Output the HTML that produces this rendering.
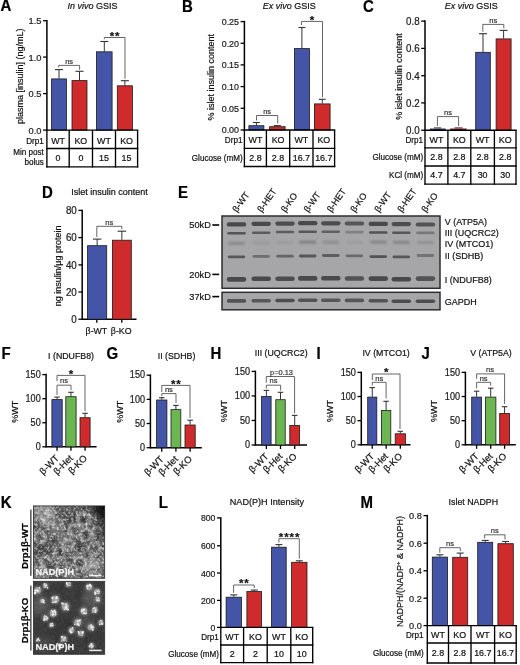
<!DOCTYPE html><html><head><meta charset="utf-8"><style>html,body{margin:0;padding:0;background:#fff;}svg{display:block;font-family:"Liberation Sans", sans-serif;will-change:transform;}</style></head><body>
<svg width="520" height="665" viewBox="0 0 520 665">
<rect width="520" height="665" fill="#fff"/>
<text x="0" y="0" transform="translate(0.6,11.4) scale(1,1.05)" font-size="15" font-weight="bold" fill="#000" stroke="#000" stroke-width="0.2">A</text>
<text x="0" y="0" transform="translate(92.5,8.6) scale(1,1.1)" font-size="9" text-anchor="middle" fill="#111" stroke="#111" stroke-width="0.2"><tspan font-style="italic">In vivo</tspan> GSIS</text>
<text x="0" y="0" transform="translate(23.3,76.3) rotate(-90)" font-size="9" text-anchor="middle" fill="#111" stroke="#111" stroke-width="0.2">plasma [insulin] (ng/mL)</text>
<line x1="46.9" y1="19.95" x2="46.9" y2="130.85" stroke="#000" stroke-width="1.5"/>
<line x1="43.1" y1="20.7" x2="46.9" y2="20.7" stroke="#000" stroke-width="1.3"/>
<text x="0" y="0" transform="translate(41.5,24.38) scale(1,1.06)" font-size="9.3" text-anchor="end" fill="#1a1a1a" stroke="#1a1a1a" stroke-width="0.2">1.5</text>
<line x1="43.1" y1="57.1" x2="46.9" y2="57.1" stroke="#000" stroke-width="1.3"/>
<text x="0" y="0" transform="translate(41.5,60.78) scale(1,1.06)" font-size="9.3" text-anchor="end" fill="#1a1a1a" stroke="#1a1a1a" stroke-width="0.2">1.0</text>
<line x1="43.1" y1="93.6" x2="46.9" y2="93.6" stroke="#000" stroke-width="1.3"/>
<text x="0" y="0" transform="translate(41.5,97.28) scale(1,1.06)" font-size="9.3" text-anchor="end" fill="#1a1a1a" stroke="#1a1a1a" stroke-width="0.2">0.5</text>
<line x1="43.1" y1="130.1" x2="46.9" y2="130.1" stroke="#000" stroke-width="1.3"/>
<text x="0" y="0" transform="translate(41.5,133.78) scale(1,1.06)" font-size="9.3" text-anchor="end" fill="#1a1a1a" stroke="#1a1a1a" stroke-width="0.2">0.0</text>
<line x1="59" y1="69.6" x2="59" y2="78.5" stroke="#333" stroke-width="1"/>
<line x1="55" y1="69.6" x2="63" y2="69.6" stroke="#333" stroke-width="1.1"/>
<rect x="51.6" y="78.9" width="14.8" height="51.2" fill="#4455a8" stroke="#1a1a1a" stroke-width="0.8"/>
<line x1="79.5" y1="71.3" x2="79.5" y2="80.2" stroke="#333" stroke-width="1"/>
<line x1="75.5" y1="71.3" x2="83.5" y2="71.3" stroke="#333" stroke-width="1.1"/>
<rect x="72" y="80.6" width="15" height="49.5" fill="#cf2a2c" stroke="#1a1a1a" stroke-width="0.8"/>
<line x1="104.3" y1="41.5" x2="104.3" y2="51.4" stroke="#333" stroke-width="1"/>
<line x1="100.3" y1="41.5" x2="108.3" y2="41.5" stroke="#333" stroke-width="1.1"/>
<rect x="96.5" y="51.8" width="15.6" height="78.3" fill="#4455a8" stroke="#1a1a1a" stroke-width="0.8"/>
<line x1="124.85" y1="80.7" x2="124.85" y2="85.4" stroke="#333" stroke-width="1"/>
<line x1="120.85" y1="80.7" x2="128.85" y2="80.7" stroke="#333" stroke-width="1.1"/>
<rect x="117.3" y="85.8" width="15.1" height="44.3" fill="#cf2a2c" stroke="#1a1a1a" stroke-width="0.8"/>
<polyline points="58.7,67.4 58.7,65.4 79.6,65.4 79.6,69.7" fill="none" stroke="#555" stroke-width="0.9"/>
<text x="69.15" y="63.6" font-size="7.5" text-anchor="middle" fill="#333" stroke="#333" stroke-width="0.2">ns</text>
<polyline points="104.3,39.2 104.3,37.5 125,37.5 125,78.8" fill="none" stroke="#555" stroke-width="0.9"/>
<text x="115.1" y="39.97" font-size="11.5" text-anchor="middle" font-weight="bold" fill="#111" stroke="#111" stroke-width="0.2" letter-spacing="0.9">**</text>
<line x1="46.23" y1="130.1" x2="138.28" y2="130.1" stroke="#000" stroke-width="1.35"/>
<line x1="46.23" y1="148.5" x2="138.28" y2="148.5" stroke="#000" stroke-width="1.35"/>
<line x1="46.23" y1="166.9" x2="138.28" y2="166.9" stroke="#000" stroke-width="1.35"/>
<line x1="46.9" y1="130.1" x2="46.9" y2="167.58" stroke="#000" stroke-width="1.35"/>
<line x1="69.2" y1="130.1" x2="69.2" y2="167.58" stroke="#000" stroke-width="1.35"/>
<line x1="92.5" y1="130.1" x2="92.5" y2="167.58" stroke="#000" stroke-width="1.35"/>
<line x1="115.5" y1="130.1" x2="115.5" y2="167.58" stroke="#000" stroke-width="1.35"/>
<line x1="137.6" y1="130.1" x2="137.6" y2="167.58" stroke="#000" stroke-width="1.35"/>
<text x="0" y="0" transform="translate(58.05,143.6) scale(1,1.1)" font-size="8.9" text-anchor="middle" fill="#111" stroke="#111" stroke-width="0.2">WT</text>
<text x="0" y="0" transform="translate(80.85,143.6) scale(1,1.1)" font-size="8.9" text-anchor="middle" fill="#111" stroke="#111" stroke-width="0.2">KO</text>
<text x="0" y="0" transform="translate(104,143.6) scale(1,1.1)" font-size="8.9" text-anchor="middle" fill="#111" stroke="#111" stroke-width="0.2">WT</text>
<text x="0" y="0" transform="translate(126.55,143.6) scale(1,1.1)" font-size="8.9" text-anchor="middle" fill="#111" stroke="#111" stroke-width="0.2">KO</text>
<text x="0" y="0" transform="translate(58.05,160.8) scale(1,1.1)" font-size="8.9" text-anchor="middle" fill="#111" stroke="#111" stroke-width="0.2">0</text>
<text x="0" y="0" transform="translate(80.85,160.8) scale(1,1.1)" font-size="8.9" text-anchor="middle" fill="#111" stroke="#111" stroke-width="0.2">0</text>
<text x="0" y="0" transform="translate(104,160.8) scale(1,1.1)" font-size="8.9" text-anchor="middle" fill="#111" stroke="#111" stroke-width="0.2">15</text>
<text x="0" y="0" transform="translate(126.55,160.8) scale(1,1.1)" font-size="8.9" text-anchor="middle" fill="#111" stroke="#111" stroke-width="0.2">15</text>
<text x="0" y="0" transform="translate(43.8,143.6) scale(1,1.07)" font-size="8.1" text-anchor="end" fill="#111" stroke="#111" stroke-width="0.2">Drp1</text>
<text x="0" y="0" transform="translate(43.8,155.2) scale(1,1.07)" font-size="8.1" text-anchor="end" fill="#111" stroke="#111" stroke-width="0.2">Min post</text>
<text x="0" y="0" transform="translate(43.8,164.5) scale(1,1.07)" font-size="8.1" text-anchor="end" fill="#111" stroke="#111" stroke-width="0.2">bolus</text>
<text x="0" y="0" transform="translate(182,11.9) scale(1,1.05)" font-size="15" font-weight="bold" fill="#000" stroke="#000" stroke-width="0.2">B</text>
<text x="0" y="0" transform="translate(289.3,8.9) scale(1,1.1)" font-size="9" text-anchor="middle" fill="#111" stroke="#111" stroke-width="0.2"><tspan font-style="italic">Ex vivo</tspan> GSIS</text>
<text x="0" y="0" transform="translate(214.2,77.3) rotate(-90)" font-size="9" text-anchor="middle" fill="#111" stroke="#111" stroke-width="0.2">% islet insulin content</text>
<line x1="244.4" y1="20.85" x2="244.4" y2="130.75" stroke="#000" stroke-width="1.5"/>
<line x1="240.6" y1="21.6" x2="244.4" y2="21.6" stroke="#000" stroke-width="1.3"/>
<text x="239" y="24.94" font-size="8.9" text-anchor="end" fill="#1a1a1a" stroke="#1a1a1a" stroke-width="0.2">0.25</text>
<line x1="240.6" y1="43.3" x2="244.4" y2="43.3" stroke="#000" stroke-width="1.3"/>
<text x="239" y="46.64" font-size="8.9" text-anchor="end" fill="#1a1a1a" stroke="#1a1a1a" stroke-width="0.2">0.20</text>
<line x1="240.6" y1="64.9" x2="244.4" y2="64.9" stroke="#000" stroke-width="1.3"/>
<text x="239" y="68.24" font-size="8.9" text-anchor="end" fill="#1a1a1a" stroke="#1a1a1a" stroke-width="0.2">0.15</text>
<line x1="240.6" y1="86.6" x2="244.4" y2="86.6" stroke="#000" stroke-width="1.3"/>
<text x="239" y="89.94" font-size="8.9" text-anchor="end" fill="#1a1a1a" stroke="#1a1a1a" stroke-width="0.2">0.10</text>
<line x1="240.6" y1="108.3" x2="244.4" y2="108.3" stroke="#000" stroke-width="1.3"/>
<text x="239" y="111.64" font-size="8.9" text-anchor="end" fill="#1a1a1a" stroke="#1a1a1a" stroke-width="0.2">0.05</text>
<line x1="240.6" y1="130" x2="244.4" y2="130" stroke="#000" stroke-width="1.3"/>
<text x="239" y="133.34" font-size="8.9" text-anchor="end" fill="#1a1a1a" stroke="#1a1a1a" stroke-width="0.2">0.00</text>
<line x1="256.4" y1="122.5" x2="256.4" y2="125.3" stroke="#333" stroke-width="1"/>
<line x1="252.9" y1="122.5" x2="259.9" y2="122.5" stroke="#333" stroke-width="1.1"/>
<rect x="248.9" y="125.7" width="15" height="4.3" fill="#4455a8" stroke="#1a1a1a" stroke-width="0.8"/>
<line x1="277.35" y1="125.6" x2="277.35" y2="126.3" stroke="#333" stroke-width="1"/>
<line x1="273.85" y1="125.6" x2="280.85" y2="125.6" stroke="#333" stroke-width="1.1"/>
<rect x="269.6" y="126.7" width="15.5" height="3.3" fill="#cf2a2c" stroke="#1a1a1a" stroke-width="0.8"/>
<line x1="301.9" y1="27.5" x2="301.9" y2="48.2" stroke="#333" stroke-width="1"/>
<line x1="298.4" y1="27.5" x2="305.4" y2="27.5" stroke="#333" stroke-width="1.1"/>
<rect x="294.4" y="48.6" width="15" height="81.4" fill="#4455a8" stroke="#1a1a1a" stroke-width="0.8"/>
<line x1="322.25" y1="99.3" x2="322.25" y2="103.5" stroke="#333" stroke-width="1"/>
<line x1="318.75" y1="99.3" x2="325.75" y2="99.3" stroke="#333" stroke-width="1.1"/>
<rect x="314.4" y="103.9" width="15.7" height="26.1" fill="#cf2a2c" stroke="#1a1a1a" stroke-width="0.8"/>
<polyline points="256.5,120.5 256.5,115.5 277.7,115.5 277.7,123.6" fill="none" stroke="#555" stroke-width="0.9"/>
<text x="267.1" y="113.7" font-size="7.5" text-anchor="middle" fill="#333" stroke="#333" stroke-width="0.2">ns</text>
<polyline points="301.5,25 301.5,21.4 322.5,21.4 322.5,97.3" fill="none" stroke="#555" stroke-width="0.9"/>
<text x="312" y="23.87" font-size="11.5" text-anchor="middle" font-weight="bold" fill="#111" stroke="#111" stroke-width="0.2">*</text>
<line x1="243.72" y1="130" x2="335.28" y2="130" stroke="#000" stroke-width="1.35"/>
<line x1="243.72" y1="148.4" x2="335.28" y2="148.4" stroke="#000" stroke-width="1.35"/>
<line x1="243.72" y1="166.5" x2="335.28" y2="166.5" stroke="#000" stroke-width="1.35"/>
<line x1="244.4" y1="130" x2="244.4" y2="167.18" stroke="#000" stroke-width="1.35"/>
<line x1="266.4" y1="130" x2="266.4" y2="167.18" stroke="#000" stroke-width="1.35"/>
<line x1="289.7" y1="130" x2="289.7" y2="167.18" stroke="#000" stroke-width="1.35"/>
<line x1="313" y1="130" x2="313" y2="167.18" stroke="#000" stroke-width="1.35"/>
<line x1="334.6" y1="130" x2="334.6" y2="167.18" stroke="#000" stroke-width="1.35"/>
<text x="0" y="0" transform="translate(255.4,143.4) scale(1,1.1)" font-size="8.9" text-anchor="middle" fill="#111" stroke="#111" stroke-width="0.2">WT</text>
<text x="0" y="0" transform="translate(278.05,143.4) scale(1,1.1)" font-size="8.9" text-anchor="middle" fill="#111" stroke="#111" stroke-width="0.2">KO</text>
<text x="0" y="0" transform="translate(301.35,143.4) scale(1,1.1)" font-size="8.9" text-anchor="middle" fill="#111" stroke="#111" stroke-width="0.2">WT</text>
<text x="0" y="0" transform="translate(323.8,143.4) scale(1,1.1)" font-size="8.9" text-anchor="middle" fill="#111" stroke="#111" stroke-width="0.2">KO</text>
<text x="0" y="0" transform="translate(255.4,160.5) scale(1,1.1)" font-size="8.9" text-anchor="middle" fill="#111" stroke="#111" stroke-width="0.2">2.8</text>
<text x="0" y="0" transform="translate(278.05,160.5) scale(1,1.1)" font-size="8.9" text-anchor="middle" fill="#111" stroke="#111" stroke-width="0.2">2.8</text>
<text x="0" y="0" transform="translate(301.35,160.5) scale(1,1.1)" font-size="8.9" text-anchor="middle" fill="#111" stroke="#111" stroke-width="0.2">16.7</text>
<text x="0" y="0" transform="translate(323.8,160.5) scale(1,1.1)" font-size="8.9" text-anchor="middle" fill="#111" stroke="#111" stroke-width="0.2">16.7</text>
<text x="0" y="0" transform="translate(242.4,143.4) scale(1,1.07)" font-size="8.1" text-anchor="end" fill="#111" stroke="#111" stroke-width="0.2">Drp1</text>
<text x="0" y="0" transform="translate(242.6,160.5) scale(1,1.07)" font-size="8.1" text-anchor="end" fill="#111" stroke="#111" stroke-width="0.2">Glucose (mM)</text>
<text x="0" y="0" transform="translate(362.9,11.5) scale(1,1.05)" font-size="15" font-weight="bold" fill="#000" stroke="#000" stroke-width="0.2">C</text>
<text x="0" y="0" transform="translate(471.3,8.7) scale(1,1.1)" font-size="9" text-anchor="middle" fill="#111" stroke="#111" stroke-width="0.2"><tspan font-style="italic">Ex vivo</tspan> GSIS</text>
<text x="0" y="0" transform="translate(401.6,76.6) rotate(-90)" font-size="9" text-anchor="middle" fill="#111" stroke="#111" stroke-width="0.2">% islet insulin content</text>
<line x1="425" y1="20.35" x2="425" y2="130.95" stroke="#000" stroke-width="1.5"/>
<line x1="421.2" y1="21.1" x2="425" y2="21.1" stroke="#000" stroke-width="1.3"/>
<text x="0" y="0" transform="translate(419.6,24.97) scale(1,1.06)" font-size="9.8" text-anchor="end" fill="#1a1a1a" stroke="#1a1a1a" stroke-width="0.2">0.8</text>
<line x1="421.2" y1="48.4" x2="425" y2="48.4" stroke="#000" stroke-width="1.3"/>
<text x="0" y="0" transform="translate(419.6,52.27) scale(1,1.06)" font-size="9.8" text-anchor="end" fill="#1a1a1a" stroke="#1a1a1a" stroke-width="0.2">0.6</text>
<line x1="421.2" y1="75.7" x2="425" y2="75.7" stroke="#000" stroke-width="1.3"/>
<text x="0" y="0" transform="translate(419.6,79.57) scale(1,1.06)" font-size="9.8" text-anchor="end" fill="#1a1a1a" stroke="#1a1a1a" stroke-width="0.2">0.4</text>
<line x1="421.2" y1="102.9" x2="425" y2="102.9" stroke="#000" stroke-width="1.3"/>
<text x="0" y="0" transform="translate(419.6,106.77) scale(1,1.06)" font-size="9.8" text-anchor="end" fill="#1a1a1a" stroke="#1a1a1a" stroke-width="0.2">0.2</text>
<line x1="421.2" y1="130.2" x2="425" y2="130.2" stroke="#000" stroke-width="1.3"/>
<text x="0" y="0" transform="translate(419.6,134.07) scale(1,1.06)" font-size="9.8" text-anchor="end" fill="#1a1a1a" stroke="#1a1a1a" stroke-width="0.2">0.0</text>
<rect x="429.8" y="128.5" width="15.8" height="1.6" fill="#2e3668"/>
<line x1="434" y1="127.9" x2="441.3" y2="127.9" stroke="#333" stroke-width="1"/>
<rect x="450.2" y="128.5" width="16.4" height="1.6" fill="#6e1e22"/>
<line x1="454.5" y1="127.9" x2="462.5" y2="127.9" stroke="#5a1a1c" stroke-width="1"/>
<line x1="483" y1="33.7" x2="483" y2="51.9" stroke="#333" stroke-width="1"/>
<line x1="479" y1="33.7" x2="487" y2="33.7" stroke="#333" stroke-width="1.1"/>
<rect x="475.7" y="52.3" width="14.6" height="77.9" fill="#4455a8" stroke="#1a1a1a" stroke-width="0.8"/>
<line x1="503.6" y1="30.4" x2="503.6" y2="38.5" stroke="#333" stroke-width="1"/>
<line x1="499.6" y1="30.4" x2="507.6" y2="30.4" stroke="#333" stroke-width="1.1"/>
<rect x="496.1" y="38.9" width="15" height="91.3" fill="#cf2a2c" stroke="#1a1a1a" stroke-width="0.8"/>
<polyline points="437.4,126 437.4,116.6 458.6,116.6 458.6,126" fill="none" stroke="#555" stroke-width="0.9"/>
<text x="448" y="114.8" font-size="7.5" text-anchor="middle" fill="#333" stroke="#333" stroke-width="0.2">ns</text>
<polyline points="482.8,31.7 482.8,24.4 503.8,24.4 503.8,28.4" fill="none" stroke="#555" stroke-width="0.9"/>
<text x="493.3" y="22.6" font-size="7.5" text-anchor="middle" fill="#333" stroke="#333" stroke-width="0.2">ns</text>
<line x1="424.32" y1="130.2" x2="516.67" y2="130.2" stroke="#000" stroke-width="1.35"/>
<line x1="424.32" y1="147.9" x2="516.67" y2="147.9" stroke="#000" stroke-width="1.35"/>
<line x1="424.32" y1="166" x2="516.67" y2="166" stroke="#000" stroke-width="1.35"/>
<line x1="424.32" y1="184.1" x2="516.67" y2="184.1" stroke="#000" stroke-width="1.35"/>
<line x1="425" y1="130.2" x2="425" y2="184.78" stroke="#000" stroke-width="1.35"/>
<line x1="447.9" y1="130.2" x2="447.9" y2="184.78" stroke="#000" stroke-width="1.35"/>
<line x1="470.8" y1="130.2" x2="470.8" y2="184.78" stroke="#000" stroke-width="1.35"/>
<line x1="494.4" y1="130.2" x2="494.4" y2="184.78" stroke="#000" stroke-width="1.35"/>
<line x1="516" y1="130.2" x2="516" y2="184.78" stroke="#000" stroke-width="1.35"/>
<text x="0" y="0" transform="translate(436.45,143.2) scale(1,1.1)" font-size="8.9" text-anchor="middle" fill="#111" stroke="#111" stroke-width="0.2">WT</text>
<text x="0" y="0" transform="translate(459.35,143.2) scale(1,1.1)" font-size="8.9" text-anchor="middle" fill="#111" stroke="#111" stroke-width="0.2">KO</text>
<text x="0" y="0" transform="translate(482.6,143.2) scale(1,1.1)" font-size="8.9" text-anchor="middle" fill="#111" stroke="#111" stroke-width="0.2">WT</text>
<text x="0" y="0" transform="translate(505.2,143.2) scale(1,1.1)" font-size="8.9" text-anchor="middle" fill="#111" stroke="#111" stroke-width="0.2">KO</text>
<text x="0" y="0" transform="translate(436.45,160.4) scale(1,1.1)" font-size="8.9" text-anchor="middle" fill="#111" stroke="#111" stroke-width="0.2">2.8</text>
<text x="0" y="0" transform="translate(459.35,160.4) scale(1,1.1)" font-size="8.9" text-anchor="middle" fill="#111" stroke="#111" stroke-width="0.2">2.8</text>
<text x="0" y="0" transform="translate(482.6,160.4) scale(1,1.1)" font-size="8.9" text-anchor="middle" fill="#111" stroke="#111" stroke-width="0.2">2.8</text>
<text x="0" y="0" transform="translate(505.2,160.4) scale(1,1.1)" font-size="8.9" text-anchor="middle" fill="#111" stroke="#111" stroke-width="0.2">2.8</text>
<text x="0" y="0" transform="translate(436.45,178) scale(1,1.1)" font-size="8.9" text-anchor="middle" fill="#111" stroke="#111" stroke-width="0.2">4.7</text>
<text x="0" y="0" transform="translate(459.35,178) scale(1,1.1)" font-size="8.9" text-anchor="middle" fill="#111" stroke="#111" stroke-width="0.2">4.7</text>
<text x="0" y="0" transform="translate(482.6,178) scale(1,1.1)" font-size="8.9" text-anchor="middle" fill="#111" stroke="#111" stroke-width="0.2">30</text>
<text x="0" y="0" transform="translate(505.2,178) scale(1,1.1)" font-size="8.9" text-anchor="middle" fill="#111" stroke="#111" stroke-width="0.2">30</text>
<text x="0" y="0" transform="translate(423,143.2) scale(1,1.07)" font-size="8.1" text-anchor="end" fill="#111" stroke="#111" stroke-width="0.2">Drp1</text>
<text x="0" y="0" transform="translate(423.2,160.4) scale(1,1.07)" font-size="8.1" text-anchor="end" fill="#111" stroke="#111" stroke-width="0.2">Glucose (mM)</text>
<text x="0" y="0" transform="translate(423.2,177.7) scale(1,1.07)" font-size="8.1" text-anchor="end" fill="#111" stroke="#111" stroke-width="0.2">KCl (mM)</text>
<text x="0" y="0" transform="translate(42,197.5) scale(1,1.05)" font-size="15" font-weight="bold" fill="#000" stroke="#000" stroke-width="0.2">D</text>
<text x="71.3" y="194.6" font-size="9" fill="#111" stroke="#111" stroke-width="0.2">Islet insulin content</text>
<text x="0" y="0" transform="translate(60.6,265.9) rotate(-90)" font-size="9" text-anchor="middle" fill="#111" stroke="#111" stroke-width="0.2">ng insulin/µg protein</text>
<line x1="82.2" y1="209.65" x2="82.2" y2="319.95" stroke="#000" stroke-width="1.5"/>
<line x1="78.4" y1="210.4" x2="82.2" y2="210.4" stroke="#000" stroke-width="1.3"/>
<text x="0" y="0" transform="translate(76.8,214.27) scale(1,1.06)" font-size="9.8" text-anchor="end" fill="#1a1a1a" stroke="#1a1a1a" stroke-width="0.2">80</text>
<line x1="78.4" y1="237.6" x2="82.2" y2="237.6" stroke="#000" stroke-width="1.3"/>
<text x="0" y="0" transform="translate(76.8,241.47) scale(1,1.06)" font-size="9.8" text-anchor="end" fill="#1a1a1a" stroke="#1a1a1a" stroke-width="0.2">60</text>
<line x1="78.4" y1="264.9" x2="82.2" y2="264.9" stroke="#000" stroke-width="1.3"/>
<text x="0" y="0" transform="translate(76.8,268.77) scale(1,1.06)" font-size="9.8" text-anchor="end" fill="#1a1a1a" stroke="#1a1a1a" stroke-width="0.2">40</text>
<line x1="78.4" y1="292" x2="82.2" y2="292" stroke="#000" stroke-width="1.3"/>
<text x="0" y="0" transform="translate(76.8,295.87) scale(1,1.06)" font-size="9.8" text-anchor="end" fill="#1a1a1a" stroke="#1a1a1a" stroke-width="0.2">20</text>
<line x1="78.4" y1="319.2" x2="82.2" y2="319.2" stroke="#000" stroke-width="1.3"/>
<text x="0" y="0" transform="translate(76.8,323.07) scale(1,1.06)" font-size="9.8" text-anchor="end" fill="#1a1a1a" stroke="#1a1a1a" stroke-width="0.2">0</text>
<line x1="82.2" y1="319.2" x2="136.5" y2="319.2" stroke="#000" stroke-width="1.5"/>
<line x1="96.8" y1="319.2" x2="96.8" y2="322.8" stroke="#000" stroke-width="1.3"/>
<line x1="121.8" y1="319.2" x2="121.8" y2="322.8" stroke="#000" stroke-width="1.3"/>
<line x1="97.15" y1="239.1" x2="97.15" y2="245.3" stroke="#333" stroke-width="1"/>
<line x1="92.9" y1="239.1" x2="101.4" y2="239.1" stroke="#333" stroke-width="1.1"/>
<rect x="87.6" y="245.7" width="19.1" height="73.5" fill="#4455a8" stroke="#1a1a1a" stroke-width="0.8"/>
<line x1="121.85" y1="231.2" x2="121.85" y2="239.8" stroke="#333" stroke-width="1"/>
<line x1="117.6" y1="231.2" x2="126.1" y2="231.2" stroke="#333" stroke-width="1.1"/>
<rect x="112.4" y="240.2" width="18.9" height="79" fill="#cf2a2c" stroke="#1a1a1a" stroke-width="0.8"/>
<polyline points="96.8,237.1 96.8,226.3 121.8,226.3 121.8,229.2" fill="none" stroke="#555" stroke-width="0.9"/>
<text x="109.3" y="224.5" font-size="7.5" text-anchor="middle" fill="#333" stroke="#333" stroke-width="0.2">ns</text>
<text x="0" y="0" transform="translate(96.4,333.6) scale(1,1.1)" font-size="8.8" text-anchor="middle" fill="#111" stroke="#111" stroke-width="0.2">β-WT</text>
<text x="0" y="0" transform="translate(121.2,333.6) scale(1,1.1)" font-size="8.8" text-anchor="middle" fill="#111" stroke="#111" stroke-width="0.2">β-KO</text>
<text x="0" y="0" transform="translate(178,198.4) scale(1,1.05)" font-size="15" font-weight="bold" fill="#000" stroke="#000" stroke-width="0.2">E</text>
<text x="0" y="0" transform="translate(237.1,212.8) rotate(-55)" font-size="9" fill="#111" stroke="#111" stroke-width="0.2">β-WT</text>
<text x="0" y="0" transform="translate(261.8,212.8) rotate(-55)" font-size="9" fill="#111" stroke="#111" stroke-width="0.2">β-HET</text>
<text x="0" y="0" transform="translate(285.6,212.8) rotate(-55)" font-size="9" fill="#111" stroke="#111" stroke-width="0.2">β-KO</text>
<text x="0" y="0" transform="translate(308.3,212.8) rotate(-55)" font-size="9" fill="#111" stroke="#111" stroke-width="0.2">β-WT</text>
<text x="0" y="0" transform="translate(331.4,212.8) rotate(-55)" font-size="9" fill="#111" stroke="#111" stroke-width="0.2">β-HET</text>
<text x="0" y="0" transform="translate(355,212.8) rotate(-55)" font-size="9" fill="#111" stroke="#111" stroke-width="0.2">β-KO</text>
<text x="0" y="0" transform="translate(378.9,212.8) rotate(-55)" font-size="9" fill="#111" stroke="#111" stroke-width="0.2">β-WT</text>
<text x="0" y="0" transform="translate(401.9,212.8) rotate(-55)" font-size="9" fill="#111" stroke="#111" stroke-width="0.2">β-HET</text>
<text x="0" y="0" transform="translate(426,212.8) rotate(-55)" font-size="9" fill="#111" stroke="#111" stroke-width="0.2">β-KO</text>
<defs><filter id="bl" x="-20%" y="-150%" width="140%" height="400%"><feGaussianBlur stdDeviation="0.7 0.55"/></filter><filter id="bl2" x="-20%" y="-150%" width="140%" height="400%"><feGaussianBlur stdDeviation="1.1 0.9"/></filter></defs>
<rect x="222" y="216" width="218" height="72.3" fill="#a6a6a8"/>
<rect x="222" y="292.3" width="218" height="17.5" fill="#a6a6a8"/>
<rect x="226.75" y="222.3" width="19.5" height="4.2" rx="2.1" fill="#4a4a4a" filter="url(#bl)"/>
<rect x="251.45" y="221.7" width="19.5" height="4.2" rx="2.1" fill="#4a4a4a" filter="url(#bl)"/>
<rect x="275.25" y="221.5" width="19.5" height="4.2" rx="2.1" fill="#4e4e4e" filter="url(#bl)"/>
<rect x="297.95" y="221.1" width="19.5" height="4.2" rx="2.1" fill="#4a4a4a" filter="url(#bl)"/>
<rect x="321.05" y="221.2" width="19.5" height="4.2" rx="2.1" fill="#4e4e4e" filter="url(#bl)"/>
<rect x="344.65" y="221.4" width="19.5" height="4.2" rx="2.1" fill="#575757" filter="url(#bl)"/>
<rect x="368.55" y="221.8" width="19.5" height="4.2" rx="2.1" fill="#4a4a4a" filter="url(#bl)"/>
<rect x="391.55" y="222" width="19.5" height="4.2" rx="2.1" fill="#4e4e4e" filter="url(#bl)"/>
<rect x="415.65" y="222.4" width="19.5" height="4.2" rx="2.1" fill="#535353" filter="url(#bl)"/>
<rect x="227.25" y="232" width="18.5" height="2.6" rx="1.3" fill="#535353" filter="url(#bl)"/>
<rect x="251.95" y="231.5" width="18.5" height="2.6" rx="1.3" fill="#5c5c5c" filter="url(#bl)"/>
<rect x="275.75" y="230.7" width="18.5" height="2.6" rx="1.3" fill="#5c5c5c" filter="url(#bl)"/>
<rect x="298.45" y="230.5" width="18.5" height="2.6" rx="1.3" fill="#575757" filter="url(#bl)"/>
<rect x="321.55" y="230.5" width="18.5" height="2.6" rx="1.3" fill="#616161" filter="url(#bl)"/>
<rect x="345.15" y="230.8" width="18.5" height="2.6" rx="1.3" fill="#818181" filter="url(#bl)"/>
<rect x="369.05" y="231.2" width="18.5" height="2.6" rx="1.3" fill="#535353" filter="url(#bl)"/>
<rect x="392.05" y="231.4" width="18.5" height="2.6" rx="1.3" fill="#575757" filter="url(#bl)"/>
<rect x="416.15" y="231.6" width="18.5" height="2.6" rx="1.3" fill="#787878" filter="url(#bl)"/>
<rect x="228" y="241.9" width="17" height="2.8" rx="1.4" fill="#858585" filter="url(#bl2)"/>
<rect x="252.7" y="241.6" width="17" height="2.8" rx="1.4" fill="#989898" filter="url(#bl2)"/>
<rect x="276.5" y="241.2" width="17" height="2.8" rx="1.4" fill="#989898" filter="url(#bl2)"/>
<rect x="299.2" y="240.8" width="17" height="2.8" rx="1.4" fill="#7c7c7c" filter="url(#bl2)"/>
<rect x="322.3" y="240.8" width="17" height="2.8" rx="1.4" fill="#8a8a8a" filter="url(#bl2)"/>
<rect x="345.9" y="240.9" width="17" height="2.8" rx="1.4" fill="#9c9c9c" filter="url(#bl2)"/>
<rect x="369.8" y="240.8" width="17" height="2.8" rx="1.4" fill="#818181" filter="url(#bl2)"/>
<rect x="392.8" y="241" width="17" height="2.8" rx="1.4" fill="#818181" filter="url(#bl2)"/>
<rect x="416.9" y="241.2" width="17" height="2.8" rx="1.4" fill="#8f8f8f" filter="url(#bl2)"/>
<rect x="227.75" y="255.4" width="17.5" height="2.8" rx="1.4" fill="#575757" filter="url(#bl)"/>
<rect x="252.45" y="254.9" width="17.5" height="2.8" rx="1.4" fill="#6e6e6e" filter="url(#bl)"/>
<rect x="276.25" y="254.8" width="17.5" height="2.8" rx="1.4" fill="#656565" filter="url(#bl)"/>
<rect x="298.95" y="254.6" width="17.5" height="2.8" rx="1.4" fill="#575757" filter="url(#bl)"/>
<rect x="322.05" y="254.1" width="17.5" height="2.8" rx="1.4" fill="#5c5c5c" filter="url(#bl)"/>
<rect x="345.65" y="254.4" width="17.5" height="2.8" rx="1.4" fill="#6a6a6a" filter="url(#bl)"/>
<rect x="369.55" y="255.2" width="17.5" height="2.8" rx="1.4" fill="#535353" filter="url(#bl)"/>
<rect x="392.55" y="255.5" width="17.5" height="2.8" rx="1.4" fill="#575757" filter="url(#bl)"/>
<rect x="416.65" y="254.1" width="17.5" height="2.8" rx="1.4" fill="#737373" filter="url(#bl)"/>
<rect x="226.75" y="277.1" width="19.5" height="4.6" rx="2.3" fill="#4a4a4a" filter="url(#bl)"/>
<rect x="251.45" y="276.5" width="19.5" height="4.6" rx="2.3" fill="#4a4a4a" filter="url(#bl)"/>
<rect x="275.25" y="276.4" width="19.5" height="4.6" rx="2.3" fill="#4e4e4e" filter="url(#bl)"/>
<rect x="297.95" y="276.1" width="19.5" height="4.6" rx="2.3" fill="#4a4a4a" filter="url(#bl)"/>
<rect x="321.05" y="275.9" width="19.5" height="4.6" rx="2.3" fill="#4a4a4a" filter="url(#bl)"/>
<rect x="344.65" y="276.2" width="19.5" height="4.6" rx="2.3" fill="#535353" filter="url(#bl)"/>
<rect x="368.55" y="276.3" width="19.5" height="4.6" rx="2.3" fill="#4a4a4a" filter="url(#bl)"/>
<rect x="391.55" y="276.9" width="19.5" height="4.6" rx="2.3" fill="#4a4a4a" filter="url(#bl)"/>
<rect x="415.65" y="276.3" width="19.5" height="4.6" rx="2.3" fill="#535353" filter="url(#bl)"/>
<rect x="226.75" y="299.1" width="19.5" height="3.6" rx="1.8" fill="#535353" filter="url(#bl)"/>
<rect x="251.45" y="298.9" width="19.5" height="3.6" rx="1.8" fill="#575757" filter="url(#bl)"/>
<rect x="275.25" y="298.7" width="19.5" height="3.6" rx="1.8" fill="#4e4e4e" filter="url(#bl)"/>
<rect x="297.95" y="298.4" width="19.5" height="3.6" rx="1.8" fill="#535353" filter="url(#bl)"/>
<rect x="321.05" y="298.4" width="19.5" height="3.6" rx="1.8" fill="#575757" filter="url(#bl)"/>
<rect x="344.65" y="298.6" width="19.5" height="3.6" rx="1.8" fill="#575757" filter="url(#bl)"/>
<rect x="368.55" y="298.9" width="19.5" height="3.6" rx="1.8" fill="#535353" filter="url(#bl)"/>
<rect x="391.55" y="299.4" width="19.5" height="3.6" rx="1.8" fill="#4e4e4e" filter="url(#bl)"/>
<rect x="415.65" y="299.4" width="19.5" height="3.6" rx="1.8" fill="#4e4e4e" filter="url(#bl)"/>
<rect x="222" y="216.0" width="218" height="72.3" fill="none" stroke="#2e2e2e" stroke-width="1.5"/>
<rect x="222" y="292.3" width="218" height="17.5" fill="none" stroke="#2e2e2e" stroke-width="1.5"/>
<text x="210.8" y="228.3" font-size="9.2" text-anchor="end" fill="#111" stroke="#111" stroke-width="0.2">50kD</text>
<line x1="212.3" y1="225" x2="219.2" y2="225" stroke="#000" stroke-width="1.6"/>
<text x="210.8" y="277.7" font-size="9.2" text-anchor="end" fill="#111" stroke="#111" stroke-width="0.2">20kD</text>
<line x1="212.3" y1="274.4" x2="219.2" y2="274.4" stroke="#000" stroke-width="1.6"/>
<text x="210.8" y="299.9" font-size="9.2" text-anchor="end" fill="#111" stroke="#111" stroke-width="0.2">37kD</text>
<line x1="212.3" y1="296.6" x2="219.2" y2="296.6" stroke="#000" stroke-width="1.6"/>
<text x="0" y="0" transform="translate(444.8,224.8) scale(1,1.04)" font-size="9" fill="#111" stroke="#111" stroke-width="0.2">V (ATP5A)</text>
<text x="0" y="0" transform="translate(444.8,235.7) scale(1,1.04)" font-size="9" fill="#111" stroke="#111" stroke-width="0.2">III (UQCRC2)</text>
<text x="0" y="0" transform="translate(444.8,247.2) scale(1,1.04)" font-size="9" fill="#111" stroke="#111" stroke-width="0.2">IV (MTCO1)</text>
<text x="0" y="0" transform="translate(444.8,258.9) scale(1,1.04)" font-size="9" fill="#111" stroke="#111" stroke-width="0.2">II (SDHB)</text>
<text x="0" y="0" transform="translate(444.8,282.7) scale(1,1.04)" font-size="9" fill="#111" stroke="#111" stroke-width="0.2">I (NDUFB8)</text>
<text x="0" y="0" transform="translate(444.8,304.6) scale(1,1.04)" font-size="9" fill="#111" stroke="#111" stroke-width="0.2">GAPDH</text>
<text x="0" y="0" transform="translate(1.5,358.7) scale(1,1.05)" font-size="15" font-weight="bold" fill="#000" stroke="#000" stroke-width="0.2">F</text>
<text x="48.1" y="358.7" font-size="8.8" fill="#111" stroke="#111" stroke-width="0.2">I (NDUFB8)</text>
<text x="0" y="0" transform="translate(18.3,411.7) rotate(-90)" font-size="9" text-anchor="middle" fill="#111" stroke="#111" stroke-width="0.2">%WT</text>
<line x1="46.1" y1="373.85" x2="46.1" y2="447.55" stroke="#000" stroke-width="1.5"/>
<line x1="42.3" y1="374.6" x2="46.1" y2="374.6" stroke="#000" stroke-width="1.3"/>
<text x="0" y="0" transform="translate(40.7,377.88) scale(1,1.1)" font-size="9.1" text-anchor="end" fill="#1a1a1a" stroke="#1a1a1a" stroke-width="0.2">150</text>
<line x1="42.3" y1="398.67" x2="46.1" y2="398.67" stroke="#000" stroke-width="1.3"/>
<text x="0" y="0" transform="translate(40.7,401.95) scale(1,1.1)" font-size="9.1" text-anchor="end" fill="#1a1a1a" stroke="#1a1a1a" stroke-width="0.2">100</text>
<line x1="42.3" y1="422.73" x2="46.1" y2="422.73" stroke="#000" stroke-width="1.3"/>
<text x="0" y="0" transform="translate(40.7,426.02) scale(1,1.1)" font-size="9.1" text-anchor="end" fill="#1a1a1a" stroke="#1a1a1a" stroke-width="0.2">50</text>
<line x1="42.3" y1="446.8" x2="46.1" y2="446.8" stroke="#000" stroke-width="1.3"/>
<text x="0" y="0" transform="translate(40.7,450.08) scale(1,1.1)" font-size="9.1" text-anchor="end" fill="#1a1a1a" stroke="#1a1a1a" stroke-width="0.2">0</text>
<line x1="46.1" y1="446.8" x2="96.6" y2="446.8" stroke="#000" stroke-width="1.5"/>
<line x1="57.05" y1="397.1" x2="57.05" y2="399.2" stroke="#333" stroke-width="1"/>
<line x1="54.3" y1="397.1" x2="59.8" y2="397.1" stroke="#333" stroke-width="1.1"/>
<rect x="51.9" y="399.6" width="10.3" height="47.2" fill="#4455a8" stroke="#1a1a1a" stroke-width="0.8"/>
<line x1="57.05" y1="446.8" x2="57.05" y2="450.8" stroke="#000" stroke-width="1.3"/>
<line x1="70.95" y1="392.3" x2="70.95" y2="396.3" stroke="#333" stroke-width="1"/>
<line x1="68.2" y1="392.3" x2="73.7" y2="392.3" stroke="#333" stroke-width="1.1"/>
<rect x="65.8" y="396.7" width="10.3" height="50.1" fill="#6cb651" stroke="#1a1a1a" stroke-width="0.8"/>
<line x1="70.95" y1="446.8" x2="70.95" y2="450.8" stroke="#000" stroke-width="1.3"/>
<line x1="85.05" y1="413.3" x2="85.05" y2="417.3" stroke="#333" stroke-width="1"/>
<line x1="82.3" y1="413.3" x2="87.8" y2="413.3" stroke="#333" stroke-width="1.1"/>
<rect x="80" y="417.7" width="10.1" height="29.1" fill="#cf2a2c" stroke="#1a1a1a" stroke-width="0.8"/>
<line x1="85.05" y1="446.8" x2="85.05" y2="450.8" stroke="#000" stroke-width="1.3"/>
<text x="0" y="0" transform="translate(59.65,458.8) rotate(-45)" font-size="9.4" text-anchor="end" fill="#111" stroke="#111" stroke-width="0.2">β-WT</text>
<text x="0" y="0" transform="translate(73.55,458.8) rotate(-45)" font-size="9.4" text-anchor="end" fill="#111" stroke="#111" stroke-width="0.2">β-Het</text>
<text x="0" y="0" transform="translate(87.65,458.8) rotate(-45)" font-size="9.4" text-anchor="end" fill="#111" stroke="#111" stroke-width="0.2">β-KO</text>
<polyline points="57,395.1 57,385.2 71,385.2 71,390.3" fill="none" stroke="#555" stroke-width="0.9"/>
<text x="64" y="383.4" font-size="7.5" text-anchor="middle" fill="#333" stroke="#333" stroke-width="0.2">ns</text>
<polyline points="57,381.2 57,375.4 85,375.4 85,411.3" fill="none" stroke="#555" stroke-width="0.9"/>
<text x="71" y="377.87" font-size="11.5" text-anchor="middle" font-weight="bold" fill="#111" stroke="#111" stroke-width="0.2">*</text>
<text x="0" y="0" transform="translate(106.5,358.7) scale(1,1.05)" font-size="15" font-weight="bold" fill="#000" stroke="#000" stroke-width="0.2">G</text>
<text x="157.7" y="359.2" font-size="8.8" fill="#111" stroke="#111" stroke-width="0.2">II (SDHB)</text>
<text x="0" y="0" transform="translate(122.5,411.7) rotate(-90)" font-size="9" text-anchor="middle" fill="#111" stroke="#111" stroke-width="0.2">%WT</text>
<line x1="150.4" y1="374.45" x2="150.4" y2="448.45" stroke="#000" stroke-width="1.5"/>
<line x1="146.6" y1="375.2" x2="150.4" y2="375.2" stroke="#000" stroke-width="1.3"/>
<text x="0" y="0" transform="translate(145,378.48) scale(1,1.1)" font-size="9.1" text-anchor="end" fill="#1a1a1a" stroke="#1a1a1a" stroke-width="0.2">150</text>
<line x1="146.6" y1="399.37" x2="150.4" y2="399.37" stroke="#000" stroke-width="1.3"/>
<text x="0" y="0" transform="translate(145,402.65) scale(1,1.1)" font-size="9.1" text-anchor="end" fill="#1a1a1a" stroke="#1a1a1a" stroke-width="0.2">100</text>
<line x1="146.6" y1="423.53" x2="150.4" y2="423.53" stroke="#000" stroke-width="1.3"/>
<text x="0" y="0" transform="translate(145,426.82) scale(1,1.1)" font-size="9.1" text-anchor="end" fill="#1a1a1a" stroke="#1a1a1a" stroke-width="0.2">50</text>
<line x1="146.6" y1="447.7" x2="150.4" y2="447.7" stroke="#000" stroke-width="1.3"/>
<text x="0" y="0" transform="translate(145,450.98) scale(1,1.1)" font-size="9.1" text-anchor="end" fill="#1a1a1a" stroke="#1a1a1a" stroke-width="0.2">0</text>
<line x1="150.4" y1="447.7" x2="201.8" y2="447.7" stroke="#000" stroke-width="1.5"/>
<line x1="161.75" y1="397.7" x2="161.75" y2="399.6" stroke="#333" stroke-width="1"/>
<line x1="159" y1="397.7" x2="164.5" y2="397.7" stroke="#333" stroke-width="1.1"/>
<rect x="156.6" y="400" width="10.3" height="47.7" fill="#4455a8" stroke="#1a1a1a" stroke-width="0.8"/>
<line x1="161.75" y1="447.7" x2="161.75" y2="451.7" stroke="#000" stroke-width="1.3"/>
<line x1="175.9" y1="405.4" x2="175.9" y2="409.2" stroke="#333" stroke-width="1"/>
<line x1="173.15" y1="405.4" x2="178.65" y2="405.4" stroke="#333" stroke-width="1.1"/>
<rect x="171" y="409.6" width="9.8" height="38.1" fill="#6cb651" stroke="#1a1a1a" stroke-width="0.8"/>
<line x1="175.9" y1="447.7" x2="175.9" y2="451.7" stroke="#000" stroke-width="1.3"/>
<line x1="190.1" y1="420.2" x2="190.1" y2="424.6" stroke="#333" stroke-width="1"/>
<line x1="187.35" y1="420.2" x2="192.85" y2="420.2" stroke="#333" stroke-width="1.1"/>
<rect x="185" y="425" width="10.2" height="22.7" fill="#cf2a2c" stroke="#1a1a1a" stroke-width="0.8"/>
<line x1="190.1" y1="447.7" x2="190.1" y2="451.7" stroke="#000" stroke-width="1.3"/>
<text x="0" y="0" transform="translate(164.35,459.7) rotate(-45)" font-size="9.4" text-anchor="end" fill="#111" stroke="#111" stroke-width="0.2">β-WT</text>
<text x="0" y="0" transform="translate(178.5,459.7) rotate(-45)" font-size="9.4" text-anchor="end" fill="#111" stroke="#111" stroke-width="0.2">β-Het</text>
<text x="0" y="0" transform="translate(192.7,459.7) rotate(-45)" font-size="9.4" text-anchor="end" fill="#111" stroke="#111" stroke-width="0.2">β-KO</text>
<polyline points="161.8,396.2 161.8,393.6 176,393.6 176,403" fill="none" stroke="#555" stroke-width="0.9"/>
<text x="168.9" y="391.8" font-size="7.5" text-anchor="middle" fill="#333" stroke="#333" stroke-width="0.2">ns</text>
<polyline points="161.8,392 161.8,385.4 190,385.4 190,418" fill="none" stroke="#555" stroke-width="0.9"/>
<text x="176.35" y="387.87" font-size="11.5" text-anchor="middle" font-weight="bold" fill="#111" stroke="#111" stroke-width="0.2" letter-spacing="0.9">**</text>
<text x="0" y="0" transform="translate(210.4,358.7) scale(1,1.05)" font-size="15" font-weight="bold" fill="#000" stroke="#000" stroke-width="0.2">H</text>
<text x="254.8" y="356.4" font-size="8.8" fill="#111" stroke="#111" stroke-width="0.2">III (UQCRC2)</text>
<text x="0" y="0" transform="translate(226.5,411) rotate(-90)" font-size="9" text-anchor="middle" fill="#111" stroke="#111" stroke-width="0.2">%WT</text>
<line x1="255.4" y1="370.65" x2="255.4" y2="445.75" stroke="#000" stroke-width="1.5"/>
<line x1="251.6" y1="371.4" x2="255.4" y2="371.4" stroke="#000" stroke-width="1.3"/>
<text x="0" y="0" transform="translate(250,374.68) scale(1,1.1)" font-size="9.1" text-anchor="end" fill="#1a1a1a" stroke="#1a1a1a" stroke-width="0.2">150</text>
<line x1="251.6" y1="395.93" x2="255.4" y2="395.93" stroke="#000" stroke-width="1.3"/>
<text x="0" y="0" transform="translate(250,399.22) scale(1,1.1)" font-size="9.1" text-anchor="end" fill="#1a1a1a" stroke="#1a1a1a" stroke-width="0.2">100</text>
<line x1="251.6" y1="420.47" x2="255.4" y2="420.47" stroke="#000" stroke-width="1.3"/>
<text x="0" y="0" transform="translate(250,423.75) scale(1,1.1)" font-size="9.1" text-anchor="end" fill="#1a1a1a" stroke="#1a1a1a" stroke-width="0.2">50</text>
<line x1="251.6" y1="445" x2="255.4" y2="445" stroke="#000" stroke-width="1.3"/>
<text x="0" y="0" transform="translate(250,448.28) scale(1,1.1)" font-size="9.1" text-anchor="end" fill="#1a1a1a" stroke="#1a1a1a" stroke-width="0.2">0</text>
<line x1="255.4" y1="445" x2="307" y2="445" stroke="#000" stroke-width="1.5"/>
<line x1="266.35" y1="390.4" x2="266.35" y2="396" stroke="#333" stroke-width="1"/>
<line x1="263.6" y1="390.4" x2="269.1" y2="390.4" stroke="#333" stroke-width="1.1"/>
<rect x="261.6" y="396.4" width="9.5" height="48.6" fill="#4455a8" stroke="#1a1a1a" stroke-width="0.8"/>
<line x1="266.35" y1="445" x2="266.35" y2="449" stroke="#000" stroke-width="1.3"/>
<line x1="280.5" y1="392.3" x2="280.5" y2="399.3" stroke="#333" stroke-width="1"/>
<line x1="277.75" y1="392.3" x2="283.25" y2="392.3" stroke="#333" stroke-width="1.1"/>
<rect x="275.8" y="399.7" width="9.4" height="45.3" fill="#6cb651" stroke="#1a1a1a" stroke-width="0.8"/>
<line x1="280.5" y1="445" x2="280.5" y2="449" stroke="#000" stroke-width="1.3"/>
<line x1="294.7" y1="415.4" x2="294.7" y2="425" stroke="#333" stroke-width="1"/>
<line x1="291.95" y1="415.4" x2="297.45" y2="415.4" stroke="#333" stroke-width="1.1"/>
<rect x="289.8" y="425.4" width="9.8" height="19.6" fill="#cf2a2c" stroke="#1a1a1a" stroke-width="0.8"/>
<line x1="294.7" y1="445" x2="294.7" y2="449" stroke="#000" stroke-width="1.3"/>
<text x="0" y="0" transform="translate(268.95,457) rotate(-45)" font-size="9.4" text-anchor="end" fill="#111" stroke="#111" stroke-width="0.2">β-WT</text>
<text x="0" y="0" transform="translate(283.1,457) rotate(-45)" font-size="9.4" text-anchor="end" fill="#111" stroke="#111" stroke-width="0.2">β-Het</text>
<text x="0" y="0" transform="translate(297.3,457) rotate(-45)" font-size="9.4" text-anchor="end" fill="#111" stroke="#111" stroke-width="0.2">β-KO</text>
<polyline points="266.3,388.6 266.3,385.2 280.6,385.2 280.6,390.5" fill="none" stroke="#555" stroke-width="0.9"/>
<text x="273.45" y="383.4" font-size="7.5" text-anchor="middle" fill="#333" stroke="#333" stroke-width="0.2">ns</text>
<polyline points="266.3,382.6 266.3,376.5 294.6,376.5 294.6,413.4" fill="none" stroke="#555" stroke-width="0.9"/>
<text x="281.5" y="375" font-size="7.4" text-anchor="middle" fill="#333" stroke="#333" stroke-width="0.2">p=0.13</text>
<text x="0" y="0" transform="translate(316.5,358.7) scale(1,1.05)" font-size="15" font-weight="bold" fill="#000" stroke="#000" stroke-width="0.2">I</text>
<text x="362.4" y="355.9" font-size="8.8" fill="#111" stroke="#111" stroke-width="0.2">IV (MTCO1)</text>
<text x="0" y="0" transform="translate(332.8,411) rotate(-90)" font-size="9" text-anchor="middle" fill="#111" stroke="#111" stroke-width="0.2">%WT</text>
<line x1="361.3" y1="371.65" x2="361.3" y2="445.55" stroke="#000" stroke-width="1.5"/>
<line x1="357.5" y1="372.4" x2="361.3" y2="372.4" stroke="#000" stroke-width="1.3"/>
<text x="0" y="0" transform="translate(355.9,375.68) scale(1,1.1)" font-size="9.1" text-anchor="end" fill="#1a1a1a" stroke="#1a1a1a" stroke-width="0.2">150</text>
<line x1="357.5" y1="396.53" x2="361.3" y2="396.53" stroke="#000" stroke-width="1.3"/>
<text x="0" y="0" transform="translate(355.9,399.82) scale(1,1.1)" font-size="9.1" text-anchor="end" fill="#1a1a1a" stroke="#1a1a1a" stroke-width="0.2">100</text>
<line x1="357.5" y1="420.67" x2="361.3" y2="420.67" stroke="#000" stroke-width="1.3"/>
<text x="0" y="0" transform="translate(355.9,423.95) scale(1,1.1)" font-size="9.1" text-anchor="end" fill="#1a1a1a" stroke="#1a1a1a" stroke-width="0.2">50</text>
<line x1="357.5" y1="444.8" x2="361.3" y2="444.8" stroke="#000" stroke-width="1.3"/>
<text x="0" y="0" transform="translate(355.9,448.08) scale(1,1.1)" font-size="9.1" text-anchor="end" fill="#1a1a1a" stroke="#1a1a1a" stroke-width="0.2">0</text>
<line x1="361.3" y1="444.8" x2="410.5" y2="444.8" stroke="#000" stroke-width="1.5"/>
<line x1="372.25" y1="387.6" x2="372.25" y2="396.7" stroke="#333" stroke-width="1"/>
<line x1="369.5" y1="387.6" x2="375" y2="387.6" stroke="#333" stroke-width="1.1"/>
<rect x="367.7" y="397.1" width="9.1" height="47.7" fill="#4455a8" stroke="#1a1a1a" stroke-width="0.8"/>
<line x1="372.25" y1="444.8" x2="372.25" y2="448.8" stroke="#000" stroke-width="1.3"/>
<line x1="386.1" y1="401.3" x2="386.1" y2="410" stroke="#333" stroke-width="1"/>
<line x1="383.35" y1="401.3" x2="388.85" y2="401.3" stroke="#333" stroke-width="1.1"/>
<rect x="381.4" y="410.4" width="9.4" height="34.4" fill="#6cb651" stroke="#1a1a1a" stroke-width="0.8"/>
<line x1="386.1" y1="444.8" x2="386.1" y2="448.8" stroke="#000" stroke-width="1.3"/>
<line x1="400.3" y1="431.3" x2="400.3" y2="433.4" stroke="#333" stroke-width="1"/>
<line x1="397.55" y1="431.3" x2="403.05" y2="431.3" stroke="#333" stroke-width="1.1"/>
<rect x="395.2" y="433.8" width="10.2" height="11" fill="#cf2a2c" stroke="#1a1a1a" stroke-width="0.8"/>
<line x1="400.3" y1="444.8" x2="400.3" y2="448.8" stroke="#000" stroke-width="1.3"/>
<text x="0" y="0" transform="translate(374.85,456.8) rotate(-45)" font-size="9.4" text-anchor="end" fill="#111" stroke="#111" stroke-width="0.2">β-WT</text>
<text x="0" y="0" transform="translate(388.7,456.8) rotate(-45)" font-size="9.4" text-anchor="end" fill="#111" stroke="#111" stroke-width="0.2">β-Het</text>
<text x="0" y="0" transform="translate(402.9,456.8) rotate(-45)" font-size="9.4" text-anchor="end" fill="#111" stroke="#111" stroke-width="0.2">β-KO</text>
<polyline points="372.3,385.5 372.3,382.3 386.1,382.3 386.1,398.5" fill="none" stroke="#555" stroke-width="0.9"/>
<text x="379.2" y="380.5" font-size="7.5" text-anchor="middle" fill="#333" stroke="#333" stroke-width="0.2">ns</text>
<polyline points="372.3,380.2 372.3,374 400,374 400,429" fill="none" stroke="#555" stroke-width="0.9"/>
<text x="386.15" y="376.47" font-size="11.5" text-anchor="middle" font-weight="bold" fill="#111" stroke="#111" stroke-width="0.2">*</text>
<text x="0" y="0" transform="translate(421.4,358.7) scale(1,1.05)" font-size="15" font-weight="bold" fill="#000" stroke="#000" stroke-width="0.2">J</text>
<text x="470.3" y="356.3" font-size="8.8" fill="#111" stroke="#111" stroke-width="0.2">V (ATP5A)</text>
<text x="0" y="0" transform="translate(436.5,411) rotate(-90)" font-size="9" text-anchor="middle" fill="#111" stroke="#111" stroke-width="0.2">%WT</text>
<line x1="465.4" y1="371.65" x2="465.4" y2="445.55" stroke="#000" stroke-width="1.5"/>
<line x1="461.6" y1="372.4" x2="465.4" y2="372.4" stroke="#000" stroke-width="1.3"/>
<text x="0" y="0" transform="translate(460,375.68) scale(1,1.1)" font-size="9.1" text-anchor="end" fill="#1a1a1a" stroke="#1a1a1a" stroke-width="0.2">150</text>
<line x1="461.6" y1="396.53" x2="465.4" y2="396.53" stroke="#000" stroke-width="1.3"/>
<text x="0" y="0" transform="translate(460,399.82) scale(1,1.1)" font-size="9.1" text-anchor="end" fill="#1a1a1a" stroke="#1a1a1a" stroke-width="0.2">100</text>
<line x1="461.6" y1="420.67" x2="465.4" y2="420.67" stroke="#000" stroke-width="1.3"/>
<text x="0" y="0" transform="translate(460,423.95) scale(1,1.1)" font-size="9.1" text-anchor="end" fill="#1a1a1a" stroke="#1a1a1a" stroke-width="0.2">50</text>
<line x1="461.6" y1="444.8" x2="465.4" y2="444.8" stroke="#000" stroke-width="1.3"/>
<text x="0" y="0" transform="translate(460,448.08) scale(1,1.1)" font-size="9.1" text-anchor="end" fill="#1a1a1a" stroke="#1a1a1a" stroke-width="0.2">0</text>
<line x1="465.4" y1="444.8" x2="515.8" y2="444.8" stroke="#000" stroke-width="1.5"/>
<line x1="476.6" y1="391.2" x2="476.6" y2="396.7" stroke="#333" stroke-width="1"/>
<line x1="473.85" y1="391.2" x2="479.35" y2="391.2" stroke="#333" stroke-width="1.1"/>
<rect x="471.7" y="397.1" width="9.8" height="47.7" fill="#4455a8" stroke="#1a1a1a" stroke-width="0.8"/>
<line x1="476.6" y1="444.8" x2="476.6" y2="448.8" stroke="#000" stroke-width="1.3"/>
<line x1="490.7" y1="388.2" x2="490.7" y2="396.7" stroke="#333" stroke-width="1"/>
<line x1="487.95" y1="388.2" x2="493.45" y2="388.2" stroke="#333" stroke-width="1.1"/>
<rect x="485.5" y="397.1" width="10.4" height="47.7" fill="#6cb651" stroke="#1a1a1a" stroke-width="0.8"/>
<line x1="490.7" y1="444.8" x2="490.7" y2="448.8" stroke="#000" stroke-width="1.3"/>
<line x1="504.6" y1="406.7" x2="504.6" y2="413" stroke="#333" stroke-width="1"/>
<line x1="501.85" y1="406.7" x2="507.35" y2="406.7" stroke="#333" stroke-width="1.1"/>
<rect x="499.7" y="413.4" width="9.8" height="31.4" fill="#cf2a2c" stroke="#1a1a1a" stroke-width="0.8"/>
<line x1="504.6" y1="444.8" x2="504.6" y2="448.8" stroke="#000" stroke-width="1.3"/>
<text x="0" y="0" transform="translate(479.2,456.8) rotate(-45)" font-size="9.4" text-anchor="end" fill="#111" stroke="#111" stroke-width="0.2">β-WT</text>
<text x="0" y="0" transform="translate(493.3,456.8) rotate(-45)" font-size="9.4" text-anchor="end" fill="#111" stroke="#111" stroke-width="0.2">β-Het</text>
<text x="0" y="0" transform="translate(507.2,456.8) rotate(-45)" font-size="9.4" text-anchor="end" fill="#111" stroke="#111" stroke-width="0.2">β-KO</text>
<polyline points="476.6,388.4 476.6,382.3 490.7,382.3 490.7,385.5" fill="none" stroke="#555" stroke-width="0.9"/>
<text x="483.65" y="380.5" font-size="7.5" text-anchor="middle" fill="#333" stroke="#333" stroke-width="0.2">ns</text>
<polyline points="476.6,378.8 476.6,373.9 504.6,373.9 504.6,404" fill="none" stroke="#555" stroke-width="0.9"/>
<text x="490" y="372.1" font-size="7.5" text-anchor="middle" fill="#333" stroke="#333" stroke-width="0.2">ns</text>
<text x="0" y="0" transform="translate(0.8,507.5) scale(1,1.05)" font-size="15" font-weight="bold" fill="#000" stroke="#000" stroke-width="0.2">K</text>
<defs><filter id="spk" x="0" y="0" width="100%" height="100%"><feTurbulence type="fractalNoise" baseFrequency="0.32" numOctaves="3" seed="5" result="n"/><feColorMatrix in="n" type="matrix" values="0 0 0 0 1  0 0 0 0 1  0 0 0 0 1  3.0 0 0 0 -1.45" result="w"/><feComposite in="w" in2="SourceGraphic" operator="in"/></filter><filter id="spkD" x="0" y="0" width="100%" height="100%"><feTurbulence type="fractalNoise" baseFrequency="0.28" numOctaves="3" seed="9" result="n"/><feColorMatrix in="n" type="matrix" values="0 0 0 0 0  0 0 0 0 0  0 0 0 0 0  -3.0 0 0 0 1.45" result="w"/><feComposite in="w" in2="SourceGraphic" operator="in"/></filter><filter id="blurK"><feGaussianBlur stdDeviation="1.3"/></filter><filter id="blurK2"><feGaussianBlur stdDeviation="0.7"/></filter><filter id="blurK3"><feGaussianBlur stdDeviation="3"/></filter><radialGradient id="gK1" cx="0.5" cy="0.5" r="0.5"><stop offset="0" stop-color="#0a0a0a"/><stop offset="0.3" stop-color="#0a0a0a" stop-opacity="0.75"/><stop offset="0.6" stop-color="#0a0a0a" stop-opacity="0"/></radialGradient></defs>
<defs><clipPath id="cK1"><rect x="33.4" y="505.9" width="71.3" height="72.4"/></clipPath><clipPath id="cK2"><rect x="33.4" y="581.3" width="71.3" height="73"/></clipPath></defs>
<defs><filter id="spk2" x="0" y="0" width="100%" height="100%"><feTurbulence type="fractalNoise" baseFrequency="0.42" numOctaves="2" seed="21" result="n"/><feColorMatrix in="n" type="matrix" values="0 0 0 0 1  0 0 0 0 1  0 0 0 0 1  3.4 0 0 0 -1.55" result="w"/><feComposite in="w" in2="SourceGraphic" operator="in" result="c"/><feGaussianBlur in="c" stdDeviation="0.45"/></filter><filter id="spk3" x="0" y="0" width="100%" height="100%"><feTurbulence type="fractalNoise" baseFrequency="0.22" numOctaves="2" seed="4" result="n"/><feColorMatrix in="n" type="matrix" values="0 0 0 0 0  0 0 0 0 0  0 0 0 0 0  -3.0 0 0 0 1.5" result="w"/><feComposite in="w" in2="SourceGraphic" operator="in" result="c"/><feGaussianBlur in="c" stdDeviation="0.6"/></filter><filter id="blurK4"><feGaussianBlur stdDeviation="1.0"/></filter></defs>
<g clip-path="url(#cK1)">
<rect x="33.4" y="505.9" width="71.3" height="72.4" fill="#565656"/>
<circle cx="44" cy="513" r="11" fill="#9c9c9c" opacity="0.9" filter="url(#blurK3)"/>
<circle cx="92" cy="566" r="10" fill="#a0a0a0" opacity="0.9" filter="url(#blurK3)"/>
<circle cx="40" cy="572" r="9" fill="#949494" opacity="0.8" filter="url(#blurK3)"/>
<circle cx="65" cy="540" r="9" fill="#7c7c7c" opacity="0.6" filter="url(#blurK3)"/>
<circle cx="55" cy="530" r="8" fill="#8a8a8a" opacity="0.6" filter="url(#blurK3)"/>
<circle cx="78" cy="556" r="8" fill="#888" opacity="0.6" filter="url(#blurK3)"/>
<circle cx="70" cy="575" r="8" fill="#909090" opacity="0.6" filter="url(#blurK3)"/>
<circle cx="83.5" cy="519.2" r="6.2" fill="none" stroke="#c4c4c4" stroke-width="2.2" opacity="0.8" filter="url(#blurK4)"/>
<circle cx="59.3" cy="553" r="5.6" fill="none" stroke="#c4c4c4" stroke-width="2.2" opacity="0.8" filter="url(#blurK4)"/>
<circle cx="94" cy="548.2" r="6.2" fill="none" stroke="#c4c4c4" stroke-width="2.2" opacity="0.8" filter="url(#blurK4)"/>
<circle cx="74.5" cy="530.2" r="5.8" fill="none" stroke="#c4c4c4" stroke-width="2.2" opacity="0.8" filter="url(#blurK4)"/>
<circle cx="48.2" cy="518.5" r="5.6" fill="none" stroke="#c4c4c4" stroke-width="2.2" opacity="0.8" filter="url(#blurK4)"/>
<circle cx="58" cy="524" r="5" fill="none" stroke="#c4c4c4" stroke-width="2.2" opacity="0.8" filter="url(#blurK4)"/>
<circle cx="85.6" cy="534.4" r="5.6" fill="none" stroke="#c4c4c4" stroke-width="2.2" opacity="0.8" filter="url(#blurK4)"/>
<circle cx="40" cy="537" r="5.5" fill="none" stroke="#c4c4c4" stroke-width="2.2" opacity="0.8" filter="url(#blurK4)"/>
<circle cx="68" cy="545" r="5.2" fill="none" stroke="#c4c4c4" stroke-width="2.2" opacity="0.8" filter="url(#blurK4)"/>
<circle cx="46" cy="562" r="5.2" fill="none" stroke="#c4c4c4" stroke-width="2.2" opacity="0.8" filter="url(#blurK4)"/>
<circle cx="80" cy="563" r="5.8" fill="none" stroke="#c4c4c4" stroke-width="2.2" opacity="0.8" filter="url(#blurK4)"/>
<circle cx="97" cy="532" r="5" fill="none" stroke="#c4c4c4" stroke-width="2.2" opacity="0.8" filter="url(#blurK4)"/>
<circle cx="62" cy="566" r="5" fill="none" stroke="#c4c4c4" stroke-width="2.2" opacity="0.8" filter="url(#blurK4)"/>
<circle cx="80" cy="562.8" r="3.6" fill="#383838" opacity="0.85" filter="url(#blurK4)"/>
<circle cx="41.3" cy="549" r="3.4" fill="#383838" opacity="0.85" filter="url(#blurK4)"/>
<circle cx="78.7" cy="547.5" r="3.4" fill="#383838" opacity="0.85" filter="url(#blurK4)"/>
<circle cx="49.6" cy="565.6" r="3.2" fill="#383838" opacity="0.85" filter="url(#blurK4)"/>
<circle cx="60.7" cy="551.7" r="3.4" fill="#383838" opacity="0.85" filter="url(#blurK4)"/>
<circle cx="98" cy="537.9" r="3" fill="#383838" opacity="0.85" filter="url(#blurK4)"/>
<circle cx="70.4" cy="521.2" r="2.8" fill="#383838" opacity="0.85" filter="url(#blurK4)"/>
<circle cx="85.6" cy="534.4" r="3" fill="#383838" opacity="0.85" filter="url(#blurK4)"/>
<circle cx="83.5" cy="519.5" r="2.6" fill="#383838" opacity="0.85" filter="url(#blurK4)"/>
<circle cx="55" cy="540" r="2.6" fill="#383838" opacity="0.85" filter="url(#blurK4)"/>
<rect x="33.4" y="505.9" width="71.3" height="72.4" fill="#fff" filter="url(#spk2)" opacity="0.6"/>
<rect x="33.4" y="505.9" width="71.3" height="72.4" fill="#000" filter="url(#spk3)" opacity="0.35"/>
<rect x="78" y="480" width="54" height="54" fill="url(#gK1)"/>
<rect x="99" y="515" width="12" height="22" fill="#111" opacity="0.45" filter="url(#blurK3)"/>
</g>
<g clip-path="url(#cK2)">
<rect x="33.4" y="581.3" width="71.3" height="73" fill="#3a3a3a"/>
<circle cx="67.6" cy="624" r="4" fill="#222" opacity="0.8" filter="url(#blurK3)"/>
<circle cx="44" cy="608.7" r="4" fill="#262626" opacity="0.8" filter="url(#blurK3)"/>
<circle cx="78.7" cy="593.5" r="4" fill="#262626" opacity="0.8" filter="url(#blurK3)"/>
<circle cx="60" cy="590" r="4" fill="#2a2a2a" opacity="0.6" filter="url(#blurK3)"/>
<circle cx="88" cy="640" r="4" fill="#2a2a2a" opacity="0.6" filter="url(#blurK3)"/>
<circle cx="40" cy="605" r="10" fill="#5c5c5c" opacity="0.9" filter="url(#blurK3)"/>
<circle cx="92" cy="598" r="10" fill="#5a5a5a" opacity="0.9" filter="url(#blurK3)"/>
<circle cx="58" cy="628" r="11" fill="#353535" opacity="0.8" filter="url(#blurK3)"/>
<circle cx="96" cy="640" r="9" fill="#383838" opacity="0.7" filter="url(#blurK3)"/>
<circle cx="72" cy="590" r="8" fill="#3c3c3c" opacity="0.7" filter="url(#blurK3)"/>
<circle cx="85" cy="620" r="8" fill="#565656" opacity="0.6" filter="url(#blurK3)"/>
<circle cx="45" cy="645" r="8" fill="#555" opacity="0.6" filter="url(#blurK3)"/>
<rect x="33.4" y="581.3" width="71.3" height="73" fill="#fff" filter="url(#spk2)" opacity="0.06"/>
<circle cx="37.7" cy="590.3" r="4.86" fill="#808080" opacity="0.7" filter="url(#blurK)"/>
<circle cx="37.7" cy="590.3" r="3.24" fill="#b4b4b4" opacity="0.8" filter="url(#blurK2)"/>
<circle cx="37.41" cy="590.67" r="1.14" fill="#eeeeee" filter="url(#blurK2)"/>
<circle cx="37.49" cy="590.35" r="0.94" fill="#eeeeee" filter="url(#blurK2)"/>
<circle cx="35.77" cy="590.37" r="0.97" fill="#eeeeee" filter="url(#blurK2)"/>
<circle cx="39.49" cy="587.82" r="0.77" fill="#eeeeee" filter="url(#blurK2)"/>
<circle cx="35.19" cy="592.2" r="1.01" fill="#eeeeee" filter="url(#blurK2)"/>
<circle cx="34.9" cy="593.25" r="1.17" fill="#eeeeee" filter="url(#blurK2)"/>
<circle cx="38.64" cy="591.01" r="0.69" fill="#eeeeee" filter="url(#blurK2)"/>
<circle cx="34.73" cy="590.47" r="0.63" fill="#eeeeee" filter="url(#blurK2)"/>
<circle cx="45.4" cy="585.7" r="3.51" fill="#808080" opacity="0.7" filter="url(#blurK)"/>
<circle cx="45.4" cy="585.7" r="2.34" fill="#b4b4b4" opacity="0.8" filter="url(#blurK2)"/>
<circle cx="44.03" cy="584.56" r="0.44" fill="#eeeeee" filter="url(#blurK2)"/>
<circle cx="45.24" cy="585.44" r="0.79" fill="#eeeeee" filter="url(#blurK2)"/>
<circle cx="45.48" cy="586.32" r="0.64" fill="#eeeeee" filter="url(#blurK2)"/>
<circle cx="46.12" cy="585.51" r="0.55" fill="#eeeeee" filter="url(#blurK2)"/>
<circle cx="47.6" cy="587.89" r="0.79" fill="#eeeeee" filter="url(#blurK2)"/>
<circle cx="46.32" cy="584.88" r="0.53" fill="#eeeeee" filter="url(#blurK2)"/>
<circle cx="44.47" cy="583.8" r="0.76" fill="#eeeeee" filter="url(#blurK2)"/>
<circle cx="44.96" cy="587.23" r="0.59" fill="#eeeeee" filter="url(#blurK2)"/>
<circle cx="68.5" cy="584.2" r="3.51" fill="#808080" opacity="0.7" filter="url(#blurK)"/>
<circle cx="68.5" cy="584.2" r="2.34" fill="#b4b4b4" opacity="0.8" filter="url(#blurK2)"/>
<circle cx="70.52" cy="585.74" r="0.43" fill="#eeeeee" filter="url(#blurK2)"/>
<circle cx="67.22" cy="586.01" r="0.63" fill="#eeeeee" filter="url(#blurK2)"/>
<circle cx="70.62" cy="583.75" r="0.46" fill="#eeeeee" filter="url(#blurK2)"/>
<circle cx="69.07" cy="585.43" r="0.54" fill="#eeeeee" filter="url(#blurK2)"/>
<circle cx="66.68" cy="583.46" r="0.84" fill="#eeeeee" filter="url(#blurK2)"/>
<circle cx="69.64" cy="582.51" r="0.53" fill="#eeeeee" filter="url(#blurK2)"/>
<circle cx="66.74" cy="582.25" r="0.77" fill="#eeeeee" filter="url(#blurK2)"/>
<circle cx="67.08" cy="584.46" r="0.62" fill="#eeeeee" filter="url(#blurK2)"/>
<circle cx="89.2" cy="587.2" r="4.59" fill="#808080" opacity="0.7" filter="url(#blurK)"/>
<circle cx="89.2" cy="587.2" r="3.06" fill="#b4b4b4" opacity="0.8" filter="url(#blurK2)"/>
<circle cx="87.41" cy="588.54" r="0.63" fill="#eeeeee" filter="url(#blurK2)"/>
<circle cx="90.03" cy="584.98" r="0.8" fill="#eeeeee" filter="url(#blurK2)"/>
<circle cx="87.54" cy="585.87" r="1.11" fill="#eeeeee" filter="url(#blurK2)"/>
<circle cx="90.95" cy="586.07" r="1.06" fill="#eeeeee" filter="url(#blurK2)"/>
<circle cx="87.53" cy="586.59" r="1.04" fill="#eeeeee" filter="url(#blurK2)"/>
<circle cx="90.02" cy="584.89" r="1.12" fill="#eeeeee" filter="url(#blurK2)"/>
<circle cx="87.54" cy="585.8" r="0.99" fill="#eeeeee" filter="url(#blurK2)"/>
<circle cx="88.21" cy="586.02" r="0.6" fill="#eeeeee" filter="url(#blurK2)"/>
<circle cx="96.9" cy="591.8" r="4.05" fill="#808080" opacity="0.7" filter="url(#blurK)"/>
<circle cx="96.9" cy="591.8" r="2.7" fill="#b4b4b4" opacity="0.8" filter="url(#blurK2)"/>
<circle cx="94.81" cy="592.22" r="0.62" fill="#eeeeee" filter="url(#blurK2)"/>
<circle cx="97.42" cy="591.15" r="0.72" fill="#eeeeee" filter="url(#blurK2)"/>
<circle cx="99.24" cy="591.72" r="0.78" fill="#eeeeee" filter="url(#blurK2)"/>
<circle cx="98.77" cy="590.18" r="0.57" fill="#eeeeee" filter="url(#blurK2)"/>
<circle cx="98.98" cy="593.42" r="0.62" fill="#eeeeee" filter="url(#blurK2)"/>
<circle cx="95.32" cy="593.02" r="0.96" fill="#eeeeee" filter="url(#blurK2)"/>
<circle cx="95.35" cy="594.1" r="0.93" fill="#eeeeee" filter="url(#blurK2)"/>
<circle cx="97.43" cy="591.4" r="0.55" fill="#eeeeee" filter="url(#blurK2)"/>
<circle cx="55.4" cy="599.5" r="5.13" fill="#808080" opacity="0.7" filter="url(#blurK)"/>
<circle cx="55.4" cy="599.5" r="3.42" fill="#b4b4b4" opacity="0.8" filter="url(#blurK2)"/>
<circle cx="52.42" cy="602.49" r="0.78" fill="#eeeeee" filter="url(#blurK2)"/>
<circle cx="56.72" cy="597.93" r="1.14" fill="#eeeeee" filter="url(#blurK2)"/>
<circle cx="56.02" cy="598.17" r="0.74" fill="#eeeeee" filter="url(#blurK2)"/>
<circle cx="56.82" cy="596.71" r="0.77" fill="#eeeeee" filter="url(#blurK2)"/>
<circle cx="55.78" cy="601.78" r="1.01" fill="#eeeeee" filter="url(#blurK2)"/>
<circle cx="53.98" cy="602.2" r="0.75" fill="#eeeeee" filter="url(#blurK2)"/>
<circle cx="52.28" cy="598.01" r="0.91" fill="#eeeeee" filter="url(#blurK2)"/>
<circle cx="52.56" cy="597.41" r="0.86" fill="#eeeeee" filter="url(#blurK2)"/>
<circle cx="65.4" cy="606.5" r="5.13" fill="#808080" opacity="0.7" filter="url(#blurK)"/>
<circle cx="65.4" cy="606.5" r="3.42" fill="#b4b4b4" opacity="0.8" filter="url(#blurK2)"/>
<circle cx="65.87" cy="604.12" r="0.85" fill="#eeeeee" filter="url(#blurK2)"/>
<circle cx="67.93" cy="609.6" r="1.04" fill="#eeeeee" filter="url(#blurK2)"/>
<circle cx="66.64" cy="607.05" r="0.71" fill="#eeeeee" filter="url(#blurK2)"/>
<circle cx="62.4" cy="603.39" r="1.2" fill="#eeeeee" filter="url(#blurK2)"/>
<circle cx="66.7" cy="609.49" r="0.64" fill="#eeeeee" filter="url(#blurK2)"/>
<circle cx="66.28" cy="606.39" r="1.09" fill="#eeeeee" filter="url(#blurK2)"/>
<circle cx="64.23" cy="609.73" r="0.67" fill="#eeeeee" filter="url(#blurK2)"/>
<circle cx="65.7" cy="608.03" r="1.19" fill="#eeeeee" filter="url(#blurK2)"/>
<circle cx="42.3" cy="601" r="3.24" fill="#808080" opacity="0.7" filter="url(#blurK)"/>
<circle cx="42.3" cy="601" r="2.16" fill="#b4b4b4" opacity="0.8" filter="url(#blurK2)"/>
<circle cx="43.27" cy="601.83" r="0.71" fill="#eeeeee" filter="url(#blurK2)"/>
<circle cx="43.99" cy="600.4" r="0.67" fill="#eeeeee" filter="url(#blurK2)"/>
<circle cx="43.94" cy="602.51" r="0.56" fill="#eeeeee" filter="url(#blurK2)"/>
<circle cx="43.49" cy="602.48" r="0.62" fill="#eeeeee" filter="url(#blurK2)"/>
<circle cx="42.81" cy="600.52" r="0.63" fill="#eeeeee" filter="url(#blurK2)"/>
<circle cx="42.74" cy="599.29" r="0.65" fill="#eeeeee" filter="url(#blurK2)"/>
<circle cx="44.31" cy="602.55" r="0.68" fill="#eeeeee" filter="url(#blurK2)"/>
<circle cx="41.84" cy="601.96" r="0.63" fill="#eeeeee" filter="url(#blurK2)"/>
<circle cx="53.1" cy="613.4" r="4.86" fill="#808080" opacity="0.7" filter="url(#blurK)"/>
<circle cx="53.1" cy="613.4" r="3.24" fill="#b4b4b4" opacity="0.8" filter="url(#blurK2)"/>
<circle cx="52.74" cy="615.47" r="0.64" fill="#eeeeee" filter="url(#blurK2)"/>
<circle cx="54.63" cy="610.52" r="0.95" fill="#eeeeee" filter="url(#blurK2)"/>
<circle cx="52.98" cy="611.75" r="1.01" fill="#eeeeee" filter="url(#blurK2)"/>
<circle cx="53.08" cy="614.1" r="1.14" fill="#eeeeee" filter="url(#blurK2)"/>
<circle cx="51.61" cy="610.41" r="0.77" fill="#eeeeee" filter="url(#blurK2)"/>
<circle cx="54.19" cy="611.58" r="0.69" fill="#eeeeee" filter="url(#blurK2)"/>
<circle cx="55.58" cy="614.38" r="0.86" fill="#eeeeee" filter="url(#blurK2)"/>
<circle cx="55.5" cy="612.34" r="0.99" fill="#eeeeee" filter="url(#blurK2)"/>
<circle cx="83.8" cy="611" r="4.86" fill="#808080" opacity="0.7" filter="url(#blurK)"/>
<circle cx="83.8" cy="611" r="3.24" fill="#b4b4b4" opacity="0.8" filter="url(#blurK2)"/>
<circle cx="81.95" cy="610.58" r="1.07" fill="#eeeeee" filter="url(#blurK2)"/>
<circle cx="86.34" cy="613.33" r="0.82" fill="#eeeeee" filter="url(#blurK2)"/>
<circle cx="84.31" cy="609.88" r="0.67" fill="#eeeeee" filter="url(#blurK2)"/>
<circle cx="83.78" cy="613.06" r="1.1" fill="#eeeeee" filter="url(#blurK2)"/>
<circle cx="85.09" cy="613.75" r="0.76" fill="#eeeeee" filter="url(#blurK2)"/>
<circle cx="81.78" cy="610.7" r="0.76" fill="#eeeeee" filter="url(#blurK2)"/>
<circle cx="82.05" cy="610.47" r="0.97" fill="#eeeeee" filter="url(#blurK2)"/>
<circle cx="83.76" cy="609.87" r="1.09" fill="#eeeeee" filter="url(#blurK2)"/>
<circle cx="94.6" cy="610.3" r="4.05" fill="#808080" opacity="0.7" filter="url(#blurK)"/>
<circle cx="94.6" cy="610.3" r="2.7" fill="#b4b4b4" opacity="0.8" filter="url(#blurK2)"/>
<circle cx="97.06" cy="610.06" r="0.53" fill="#eeeeee" filter="url(#blurK2)"/>
<circle cx="92.21" cy="612.2" r="0.52" fill="#eeeeee" filter="url(#blurK2)"/>
<circle cx="95.66" cy="610.66" r="0.65" fill="#eeeeee" filter="url(#blurK2)"/>
<circle cx="96.09" cy="607.85" r="0.56" fill="#eeeeee" filter="url(#blurK2)"/>
<circle cx="94.37" cy="607.88" r="0.91" fill="#eeeeee" filter="url(#blurK2)"/>
<circle cx="93.26" cy="608.47" r="0.52" fill="#eeeeee" filter="url(#blurK2)"/>
<circle cx="95.26" cy="610.03" r="0.81" fill="#eeeeee" filter="url(#blurK2)"/>
<circle cx="95.39" cy="611.87" r="0.97" fill="#eeeeee" filter="url(#blurK2)"/>
<circle cx="97.7" cy="599.5" r="3.51" fill="#808080" opacity="0.7" filter="url(#blurK)"/>
<circle cx="97.7" cy="599.5" r="2.34" fill="#b4b4b4" opacity="0.8" filter="url(#blurK2)"/>
<circle cx="98.52" cy="598.17" r="0.63" fill="#eeeeee" filter="url(#blurK2)"/>
<circle cx="96.28" cy="597.34" r="0.63" fill="#eeeeee" filter="url(#blurK2)"/>
<circle cx="98.65" cy="598.08" r="0.55" fill="#eeeeee" filter="url(#blurK2)"/>
<circle cx="97.02" cy="600.37" r="0.65" fill="#eeeeee" filter="url(#blurK2)"/>
<circle cx="98.21" cy="600.63" r="0.6" fill="#eeeeee" filter="url(#blurK2)"/>
<circle cx="98.99" cy="601.3" r="0.47" fill="#eeeeee" filter="url(#blurK2)"/>
<circle cx="99.61" cy="600.48" r="0.48" fill="#eeeeee" filter="url(#blurK2)"/>
<circle cx="97.49" cy="600.05" r="0.82" fill="#eeeeee" filter="url(#blurK2)"/>
<circle cx="45.4" cy="618" r="3.78" fill="#808080" opacity="0.7" filter="url(#blurK)"/>
<circle cx="45.4" cy="618" r="2.52" fill="#b4b4b4" opacity="0.8" filter="url(#blurK2)"/>
<circle cx="44.81" cy="618.33" r="0.87" fill="#eeeeee" filter="url(#blurK2)"/>
<circle cx="46.81" cy="620.11" r="0.68" fill="#eeeeee" filter="url(#blurK2)"/>
<circle cx="46.12" cy="616.6" r="0.8" fill="#eeeeee" filter="url(#blurK2)"/>
<circle cx="46.92" cy="618.67" r="0.79" fill="#eeeeee" filter="url(#blurK2)"/>
<circle cx="44.04" cy="619.9" r="0.91" fill="#eeeeee" filter="url(#blurK2)"/>
<circle cx="47.67" cy="618.18" r="0.83" fill="#eeeeee" filter="url(#blurK2)"/>
<circle cx="44.55" cy="619.95" r="0.86" fill="#eeeeee" filter="url(#blurK2)"/>
<circle cx="44.68" cy="616.01" r="0.67" fill="#eeeeee" filter="url(#blurK2)"/>
<circle cx="77.7" cy="622.6" r="4.86" fill="#808080" opacity="0.7" filter="url(#blurK)"/>
<circle cx="77.7" cy="622.6" r="3.24" fill="#b4b4b4" opacity="0.8" filter="url(#blurK2)"/>
<circle cx="78.01" cy="624.24" r="0.88" fill="#eeeeee" filter="url(#blurK2)"/>
<circle cx="74.81" cy="624.49" r="0.63" fill="#eeeeee" filter="url(#blurK2)"/>
<circle cx="79.54" cy="620.6" r="0.79" fill="#eeeeee" filter="url(#blurK2)"/>
<circle cx="79.46" cy="620.4" r="0.68" fill="#eeeeee" filter="url(#blurK2)"/>
<circle cx="77.8" cy="623.97" r="1.09" fill="#eeeeee" filter="url(#blurK2)"/>
<circle cx="78.86" cy="625.33" r="0.89" fill="#eeeeee" filter="url(#blurK2)"/>
<circle cx="80.45" cy="620.07" r="0.73" fill="#eeeeee" filter="url(#blurK2)"/>
<circle cx="77.86" cy="621.32" r="1.03" fill="#eeeeee" filter="url(#blurK2)"/>
<circle cx="90.8" cy="627.2" r="4.59" fill="#808080" opacity="0.7" filter="url(#blurK)"/>
<circle cx="90.8" cy="627.2" r="3.06" fill="#b4b4b4" opacity="0.8" filter="url(#blurK2)"/>
<circle cx="91.6" cy="627.33" r="1.03" fill="#eeeeee" filter="url(#blurK2)"/>
<circle cx="91.15" cy="626.11" r="0.77" fill="#eeeeee" filter="url(#blurK2)"/>
<circle cx="92.8" cy="629.52" r="0.68" fill="#eeeeee" filter="url(#blurK2)"/>
<circle cx="92.83" cy="629.91" r="0.86" fill="#eeeeee" filter="url(#blurK2)"/>
<circle cx="91.22" cy="625.47" r="0.86" fill="#eeeeee" filter="url(#blurK2)"/>
<circle cx="90.82" cy="627.81" r="0.58" fill="#eeeeee" filter="url(#blurK2)"/>
<circle cx="93.51" cy="627.29" r="0.79" fill="#eeeeee" filter="url(#blurK2)"/>
<circle cx="92.54" cy="627.56" r="0.84" fill="#eeeeee" filter="url(#blurK2)"/>
<circle cx="71.5" cy="630.3" r="4.05" fill="#808080" opacity="0.7" filter="url(#blurK)"/>
<circle cx="71.5" cy="630.3" r="2.7" fill="#b4b4b4" opacity="0.8" filter="url(#blurK2)"/>
<circle cx="72.47" cy="628.09" r="0.76" fill="#eeeeee" filter="url(#blurK2)"/>
<circle cx="71.06" cy="632.63" r="0.95" fill="#eeeeee" filter="url(#blurK2)"/>
<circle cx="70.32" cy="630.16" r="0.56" fill="#eeeeee" filter="url(#blurK2)"/>
<circle cx="71.16" cy="631.91" r="0.94" fill="#eeeeee" filter="url(#blurK2)"/>
<circle cx="71.38" cy="629.37" r="0.59" fill="#eeeeee" filter="url(#blurK2)"/>
<circle cx="72.1" cy="632.47" r="0.56" fill="#eeeeee" filter="url(#blurK2)"/>
<circle cx="72.92" cy="627.87" r="0.59" fill="#eeeeee" filter="url(#blurK2)"/>
<circle cx="70.11" cy="631.25" r="0.65" fill="#eeeeee" filter="url(#blurK2)"/>
<circle cx="51.5" cy="625" r="3.24" fill="#808080" opacity="0.7" filter="url(#blurK)"/>
<circle cx="51.5" cy="625" r="2.16" fill="#b4b4b4" opacity="0.8" filter="url(#blurK2)"/>
<circle cx="50.91" cy="625.49" r="0.44" fill="#eeeeee" filter="url(#blurK2)"/>
<circle cx="52.44" cy="623.46" r="0.6" fill="#eeeeee" filter="url(#blurK2)"/>
<circle cx="50.48" cy="623.77" r="0.61" fill="#eeeeee" filter="url(#blurK2)"/>
<circle cx="51.24" cy="624.49" r="0.56" fill="#eeeeee" filter="url(#blurK2)"/>
<circle cx="51.62" cy="623.61" r="0.48" fill="#eeeeee" filter="url(#blurK2)"/>
<circle cx="52.04" cy="625.56" r="0.61" fill="#eeeeee" filter="url(#blurK2)"/>
<circle cx="52.93" cy="625.46" r="0.74" fill="#eeeeee" filter="url(#blurK2)"/>
<circle cx="50.41" cy="625.98" r="0.72" fill="#eeeeee" filter="url(#blurK2)"/>
<circle cx="80.8" cy="633.4" r="4.05" fill="#808080" opacity="0.7" filter="url(#blurK)"/>
<circle cx="80.8" cy="633.4" r="2.7" fill="#b4b4b4" opacity="0.8" filter="url(#blurK2)"/>
<circle cx="82.85" cy="632.46" r="0.65" fill="#eeeeee" filter="url(#blurK2)"/>
<circle cx="82.96" cy="631.96" r="0.99" fill="#eeeeee" filter="url(#blurK2)"/>
<circle cx="82.78" cy="631.53" r="0.61" fill="#eeeeee" filter="url(#blurK2)"/>
<circle cx="81.96" cy="632.17" r="0.54" fill="#eeeeee" filter="url(#blurK2)"/>
<circle cx="82.49" cy="633" r="0.89" fill="#eeeeee" filter="url(#blurK2)"/>
<circle cx="78.89" cy="632.9" r="0.83" fill="#eeeeee" filter="url(#blurK2)"/>
<circle cx="78.34" cy="631.87" r="0.83" fill="#eeeeee" filter="url(#blurK2)"/>
<circle cx="82.9" cy="635.79" r="0.55" fill="#eeeeee" filter="url(#blurK2)"/>
<circle cx="63.8" cy="638.8" r="4.05" fill="#808080" opacity="0.7" filter="url(#blurK)"/>
<circle cx="63.8" cy="638.8" r="2.7" fill="#b4b4b4" opacity="0.8" filter="url(#blurK2)"/>
<circle cx="63.83" cy="640.12" r="0.74" fill="#eeeeee" filter="url(#blurK2)"/>
<circle cx="64.75" cy="637.21" r="0.53" fill="#eeeeee" filter="url(#blurK2)"/>
<circle cx="61.79" cy="636.44" r="0.77" fill="#eeeeee" filter="url(#blurK2)"/>
<circle cx="63.88" cy="639.15" r="0.57" fill="#eeeeee" filter="url(#blurK2)"/>
<circle cx="62.19" cy="637.29" r="0.91" fill="#eeeeee" filter="url(#blurK2)"/>
<circle cx="66.3" cy="640.98" r="0.54" fill="#eeeeee" filter="url(#blurK2)"/>
<circle cx="61.57" cy="641.1" r="0.72" fill="#eeeeee" filter="url(#blurK2)"/>
<circle cx="65.15" cy="637.92" r="0.73" fill="#eeeeee" filter="url(#blurK2)"/>
<circle cx="91.5" cy="645.7" r="3.51" fill="#808080" opacity="0.7" filter="url(#blurK)"/>
<circle cx="91.5" cy="645.7" r="2.34" fill="#b4b4b4" opacity="0.8" filter="url(#blurK2)"/>
<circle cx="91.57" cy="645.39" r="0.69" fill="#eeeeee" filter="url(#blurK2)"/>
<circle cx="89.35" cy="646.59" r="0.79" fill="#eeeeee" filter="url(#blurK2)"/>
<circle cx="90.09" cy="645.5" r="0.75" fill="#eeeeee" filter="url(#blurK2)"/>
<circle cx="91.08" cy="644.35" r="0.5" fill="#eeeeee" filter="url(#blurK2)"/>
<circle cx="91.56" cy="643.56" r="0.81" fill="#eeeeee" filter="url(#blurK2)"/>
<circle cx="92.83" cy="646.6" r="0.8" fill="#eeeeee" filter="url(#blurK2)"/>
<circle cx="92.07" cy="645.28" r="0.69" fill="#eeeeee" filter="url(#blurK2)"/>
<circle cx="91.52" cy="647.83" r="0.77" fill="#eeeeee" filter="url(#blurK2)"/>
<circle cx="100.8" cy="622.6" r="3.51" fill="#808080" opacity="0.7" filter="url(#blurK)"/>
<circle cx="100.8" cy="622.6" r="2.34" fill="#b4b4b4" opacity="0.8" filter="url(#blurK2)"/>
<circle cx="99.73" cy="624.42" r="0.75" fill="#eeeeee" filter="url(#blurK2)"/>
<circle cx="102.03" cy="623.99" r="0.6" fill="#eeeeee" filter="url(#blurK2)"/>
<circle cx="102.55" cy="624.28" r="0.73" fill="#eeeeee" filter="url(#blurK2)"/>
<circle cx="101.98" cy="623.77" r="0.6" fill="#eeeeee" filter="url(#blurK2)"/>
<circle cx="101.78" cy="620.7" r="0.58" fill="#eeeeee" filter="url(#blurK2)"/>
<circle cx="100.66" cy="620.44" r="0.58" fill="#eeeeee" filter="url(#blurK2)"/>
<circle cx="101.41" cy="623.15" r="0.53" fill="#eeeeee" filter="url(#blurK2)"/>
<circle cx="102.77" cy="623.33" r="0.57" fill="#eeeeee" filter="url(#blurK2)"/>
<circle cx="60" cy="645" r="2.7" fill="#808080" opacity="0.7" filter="url(#blurK)"/>
<circle cx="60" cy="645" r="1.8" fill="#b4b4b4" opacity="0.8" filter="url(#blurK2)"/>
<circle cx="60.54" cy="645.24" r="0.51" fill="#eeeeee" filter="url(#blurK2)"/>
<circle cx="59.62" cy="646.7" r="0.54" fill="#eeeeee" filter="url(#blurK2)"/>
<circle cx="60.68" cy="645.89" r="0.65" fill="#eeeeee" filter="url(#blurK2)"/>
<circle cx="58.38" cy="645.39" r="0.57" fill="#eeeeee" filter="url(#blurK2)"/>
<circle cx="59.17" cy="644.67" r="0.35" fill="#eeeeee" filter="url(#blurK2)"/>
<circle cx="58.96" cy="644.58" r="0.36" fill="#eeeeee" filter="url(#blurK2)"/>
<circle cx="59.15" cy="646.38" r="0.51" fill="#eeeeee" filter="url(#blurK2)"/>
<circle cx="60.03" cy="646.59" r="0.52" fill="#eeeeee" filter="url(#blurK2)"/>
<circle cx="38" cy="640" r="2.7" fill="#808080" opacity="0.7" filter="url(#blurK)"/>
<circle cx="38" cy="640" r="1.8" fill="#b4b4b4" opacity="0.8" filter="url(#blurK2)"/>
<circle cx="39.68" cy="640.47" r="0.6" fill="#eeeeee" filter="url(#blurK2)"/>
<circle cx="36.56" cy="640.33" r="0.58" fill="#eeeeee" filter="url(#blurK2)"/>
<circle cx="36.45" cy="641.46" r="0.38" fill="#eeeeee" filter="url(#blurK2)"/>
<circle cx="37.9" cy="638.88" r="0.49" fill="#eeeeee" filter="url(#blurK2)"/>
<circle cx="38.38" cy="638.5" r="0.64" fill="#eeeeee" filter="url(#blurK2)"/>
<circle cx="37.73" cy="640.09" r="0.53" fill="#eeeeee" filter="url(#blurK2)"/>
<circle cx="37.54" cy="639.27" r="0.55" fill="#eeeeee" filter="url(#blurK2)"/>
<circle cx="38.21" cy="639.26" r="0.57" fill="#eeeeee" filter="url(#blurK2)"/>
</g>
<rect x="33.4" y="505.9" width="71.3" height="72.4" fill="none" stroke="#222" stroke-width="0.8"/>
<rect x="33.4" y="581.3" width="71.3" height="73" fill="none" stroke="#222" stroke-width="0.8"/>
<text x="35.4" y="575" font-size="9.2" font-weight="bold" fill="#f4f4f4" stroke="#f4f4f4" stroke-width="0.2">NAD(P)H</text>
<text x="35.4" y="650.3" font-size="9.2" font-weight="bold" fill="#f4f4f4" stroke="#f4f4f4" stroke-width="0.2">NAD(P)H</text>
<line x1="89.2" y1="575.6" x2="101.6" y2="575.6" stroke="#eee" stroke-width="1.5"/>
<line x1="89.2" y1="650.4" x2="101.6" y2="650.4" stroke="#eee" stroke-width="1.5"/>
<text x="0" y="0" transform="translate(28.2,546) rotate(-90)" font-size="9.6" text-anchor="middle" font-weight="bold" fill="#000" stroke="#000" stroke-width="0.2">Drp1β-WT</text>
<text x="0" y="0" transform="translate(28.2,620.5) rotate(-90)" font-size="9.6" text-anchor="middle" font-weight="bold" fill="#000" stroke="#000" stroke-width="0.2">Drp1β-KO</text>
<line x1="30.9" y1="509.6" x2="30.9" y2="575.8" stroke="#000" stroke-width="1"/>
<line x1="30.9" y1="585.6" x2="30.9" y2="650.6" stroke="#000" stroke-width="1"/>
<text x="0" y="0" transform="translate(158.8,507.5) scale(1,1.05)" font-size="15" font-weight="bold" fill="#000" stroke="#000" stroke-width="0.2">L</text>
<text x="229.8" y="504.7" font-size="9.1" fill="#111" stroke="#111" stroke-width="0.2">NAD(P)H Intensity</text>
<line x1="220.8" y1="517.15" x2="220.8" y2="628.15" stroke="#000" stroke-width="1.5"/>
<line x1="217" y1="517.9" x2="220.8" y2="517.9" stroke="#000" stroke-width="1.3"/>
<text x="0" y="0" transform="translate(215.4,521.41) scale(1,1.08)" font-size="8.7" text-anchor="end" fill="#1a1a1a" stroke="#1a1a1a" stroke-width="0.2">800</text>
<line x1="217" y1="545.8" x2="220.8" y2="545.8" stroke="#000" stroke-width="1.3"/>
<text x="0" y="0" transform="translate(215.4,549.31) scale(1,1.08)" font-size="8.7" text-anchor="end" fill="#1a1a1a" stroke="#1a1a1a" stroke-width="0.2">600</text>
<line x1="217" y1="573" x2="220.8" y2="573" stroke="#000" stroke-width="1.3"/>
<text x="0" y="0" transform="translate(215.4,576.51) scale(1,1.08)" font-size="8.7" text-anchor="end" fill="#1a1a1a" stroke="#1a1a1a" stroke-width="0.2">400</text>
<line x1="217" y1="600.4" x2="220.8" y2="600.4" stroke="#000" stroke-width="1.3"/>
<text x="0" y="0" transform="translate(215.4,603.91) scale(1,1.08)" font-size="8.7" text-anchor="end" fill="#1a1a1a" stroke="#1a1a1a" stroke-width="0.2">200</text>
<line x1="217" y1="627.4" x2="220.8" y2="627.4" stroke="#000" stroke-width="1.3"/>
<text x="0" y="0" transform="translate(215.4,630.91) scale(1,1.08)" font-size="8.7" text-anchor="end" fill="#1a1a1a" stroke="#1a1a1a" stroke-width="0.2">0</text>
<line x1="233.75" y1="594.9" x2="233.75" y2="596.8" stroke="#333" stroke-width="1"/>
<line x1="230.25" y1="594.9" x2="237.25" y2="594.9" stroke="#333" stroke-width="1.1"/>
<rect x="226.1" y="597.2" width="15.3" height="30.2" fill="#4455a8" stroke="#1a1a1a" stroke-width="0.8"/>
<line x1="254.2" y1="590.1" x2="254.2" y2="591.2" stroke="#333" stroke-width="1"/>
<line x1="250.7" y1="590.1" x2="257.7" y2="590.1" stroke="#333" stroke-width="1.1"/>
<rect x="246.9" y="591.6" width="14.6" height="35.8" fill="#cf2a2c" stroke="#1a1a1a" stroke-width="0.8"/>
<line x1="278.9" y1="544.6" x2="278.9" y2="546.8" stroke="#333" stroke-width="1"/>
<line x1="275.4" y1="544.6" x2="282.4" y2="544.6" stroke="#333" stroke-width="1.1"/>
<rect x="271.6" y="547.2" width="14.6" height="80.2" fill="#4455a8" stroke="#1a1a1a" stroke-width="0.8"/>
<line x1="299.3" y1="560.8" x2="299.3" y2="561.9" stroke="#333" stroke-width="1"/>
<line x1="295.8" y1="560.8" x2="302.8" y2="560.8" stroke="#333" stroke-width="1.1"/>
<rect x="291.6" y="562.3" width="15.4" height="65.1" fill="#cf2a2c" stroke="#1a1a1a" stroke-width="0.8"/>
<polyline points="233.6,592.9 233.6,585 254.2,585 254.2,588.1" fill="none" stroke="#555" stroke-width="0.9"/>
<text x="244.35" y="587.47" font-size="11.5" text-anchor="middle" font-weight="bold" fill="#111" stroke="#111" stroke-width="0.2" letter-spacing="0.9">**</text>
<polyline points="278.9,542.6 278.9,538.7 299.3,538.7 299.3,558.8" fill="none" stroke="#555" stroke-width="0.9"/>
<text x="289.55" y="541.17" font-size="11.5" text-anchor="middle" font-weight="bold" fill="#111" stroke="#111" stroke-width="0.2" letter-spacing="0.9">****</text>
<line x1="220.12" y1="627.4" x2="313.38" y2="627.4" stroke="#000" stroke-width="1.35"/>
<line x1="220.12" y1="645" x2="313.38" y2="645" stroke="#000" stroke-width="1.35"/>
<line x1="220.12" y1="662.6" x2="313.38" y2="662.6" stroke="#000" stroke-width="1.35"/>
<line x1="220.8" y1="627.4" x2="220.8" y2="663.27" stroke="#000" stroke-width="1.35"/>
<line x1="243.6" y1="627.4" x2="243.6" y2="663.27" stroke="#000" stroke-width="1.35"/>
<line x1="267.2" y1="627.4" x2="267.2" y2="663.27" stroke="#000" stroke-width="1.35"/>
<line x1="290.8" y1="627.4" x2="290.8" y2="663.27" stroke="#000" stroke-width="1.35"/>
<line x1="312.7" y1="627.4" x2="312.7" y2="663.27" stroke="#000" stroke-width="1.35"/>
<text x="0" y="0" transform="translate(232.2,639.8) scale(1,1.1)" font-size="8.9" text-anchor="middle" fill="#111" stroke="#111" stroke-width="0.2">WT</text>
<text x="0" y="0" transform="translate(255.4,639.8) scale(1,1.1)" font-size="8.9" text-anchor="middle" fill="#111" stroke="#111" stroke-width="0.2">KO</text>
<text x="0" y="0" transform="translate(279,639.8) scale(1,1.1)" font-size="8.9" text-anchor="middle" fill="#111" stroke="#111" stroke-width="0.2">WT</text>
<text x="0" y="0" transform="translate(301.75,639.8) scale(1,1.1)" font-size="8.9" text-anchor="middle" fill="#111" stroke="#111" stroke-width="0.2">KO</text>
<text x="0" y="0" transform="translate(232.2,657.3) scale(1,1.1)" font-size="8.9" text-anchor="middle" fill="#111" stroke="#111" stroke-width="0.2">2</text>
<text x="0" y="0" transform="translate(255.4,657.3) scale(1,1.1)" font-size="8.9" text-anchor="middle" fill="#111" stroke="#111" stroke-width="0.2">2</text>
<text x="0" y="0" transform="translate(279,657.3) scale(1,1.1)" font-size="8.9" text-anchor="middle" fill="#111" stroke="#111" stroke-width="0.2">10</text>
<text x="0" y="0" transform="translate(301.75,657.3) scale(1,1.1)" font-size="8.9" text-anchor="middle" fill="#111" stroke="#111" stroke-width="0.2">10</text>
<text x="0" y="0" transform="translate(218.8,639.8) scale(1,1.07)" font-size="8.1" text-anchor="end" fill="#111" stroke="#111" stroke-width="0.2">Drp1</text>
<text x="0" y="0" transform="translate(219,657.3) scale(1,1.07)" font-size="8.1" text-anchor="end" fill="#111" stroke="#111" stroke-width="0.2">Glucose (mM)</text>
<text x="0" y="0" transform="translate(360.6,507.5) scale(1,1.05)" font-size="15" font-weight="bold" fill="#000" stroke="#000" stroke-width="0.2">M</text>
<text x="473.3" y="504.5" font-size="8.8" text-anchor="middle" fill="#111" stroke="#111" stroke-width="0.2">Islet NADPH</text>
<text x="0" y="0" transform="translate(403.4,571.5) rotate(-90)" font-size="9" text-anchor="middle" fill="#111" stroke="#111" stroke-width="0.2">NADPH/(NADP<tspan font-size="6" dy="-3.5">+</tspan><tspan dy="3.5"> &amp; NADPH)</tspan></text>
<line x1="427.3" y1="514.85" x2="427.3" y2="626.35" stroke="#000" stroke-width="1.5"/>
<line x1="423.5" y1="515.6" x2="427.3" y2="515.6" stroke="#000" stroke-width="1.3"/>
<text x="0" y="0" transform="translate(421.9,519.24) scale(1,1.06)" font-size="9.2" text-anchor="end" fill="#1a1a1a" stroke="#1a1a1a" stroke-width="0.2">0.8</text>
<line x1="423.5" y1="543.2" x2="427.3" y2="543.2" stroke="#000" stroke-width="1.3"/>
<text x="0" y="0" transform="translate(421.9,546.84) scale(1,1.06)" font-size="9.2" text-anchor="end" fill="#1a1a1a" stroke="#1a1a1a" stroke-width="0.2">0.6</text>
<line x1="423.5" y1="570.8" x2="427.3" y2="570.8" stroke="#000" stroke-width="1.3"/>
<text x="0" y="0" transform="translate(421.9,574.44) scale(1,1.06)" font-size="9.2" text-anchor="end" fill="#1a1a1a" stroke="#1a1a1a" stroke-width="0.2">0.4</text>
<line x1="423.5" y1="598.2" x2="427.3" y2="598.2" stroke="#000" stroke-width="1.3"/>
<text x="0" y="0" transform="translate(421.9,601.84) scale(1,1.06)" font-size="9.2" text-anchor="end" fill="#1a1a1a" stroke="#1a1a1a" stroke-width="0.2">0.2</text>
<line x1="423.5" y1="625.6" x2="427.3" y2="625.6" stroke="#000" stroke-width="1.3"/>
<text x="0" y="0" transform="translate(421.9,629.24) scale(1,1.06)" font-size="9.2" text-anchor="end" fill="#1a1a1a" stroke="#1a1a1a" stroke-width="0.2">0.0</text>
<line x1="439.9" y1="554.8" x2="439.9" y2="556.7" stroke="#333" stroke-width="1"/>
<line x1="436.4" y1="554.8" x2="443.4" y2="554.8" stroke="#333" stroke-width="1.1"/>
<rect x="432.3" y="557.1" width="15.2" height="68.5" fill="#4455a8" stroke="#1a1a1a" stroke-width="0.8"/>
<line x1="460.2" y1="553.1" x2="460.2" y2="556.9" stroke="#333" stroke-width="1"/>
<line x1="456.7" y1="553.1" x2="463.7" y2="553.1" stroke="#333" stroke-width="1.1"/>
<rect x="452.7" y="557.3" width="15" height="68.3" fill="#cf2a2c" stroke="#1a1a1a" stroke-width="0.8"/>
<line x1="485.2" y1="540.4" x2="485.2" y2="541.9" stroke="#333" stroke-width="1"/>
<line x1="481.7" y1="540.4" x2="488.7" y2="540.4" stroke="#333" stroke-width="1.1"/>
<rect x="477.7" y="542.3" width="15" height="83.3" fill="#4455a8" stroke="#1a1a1a" stroke-width="0.8"/>
<line x1="505.6" y1="541.5" x2="505.6" y2="543.3" stroke="#333" stroke-width="1"/>
<line x1="502.1" y1="541.5" x2="509.1" y2="541.5" stroke="#333" stroke-width="1.1"/>
<rect x="497.9" y="543.7" width="15.4" height="81.9" fill="#cf2a2c" stroke="#1a1a1a" stroke-width="0.8"/>
<polyline points="439.8,552.8 439.8,547.7 460.3,547.7 460.3,551.1" fill="none" stroke="#555" stroke-width="0.9"/>
<text x="450.05" y="545.9" font-size="7.5" text-anchor="middle" fill="#333" stroke="#333" stroke-width="0.2">ns</text>
<polyline points="484.6,538.4 484.6,534.8 505,534.8 505,539.5" fill="none" stroke="#555" stroke-width="0.9"/>
<text x="494.8" y="533" font-size="7.5" text-anchor="middle" fill="#333" stroke="#333" stroke-width="0.2">ns</text>
<line x1="426.62" y1="625.6" x2="516.88" y2="625.6" stroke="#000" stroke-width="1.35"/>
<line x1="426.62" y1="643" x2="516.88" y2="643" stroke="#000" stroke-width="1.35"/>
<line x1="426.62" y1="663" x2="516.88" y2="663" stroke="#000" stroke-width="1.35"/>
<line x1="427.3" y1="625.6" x2="427.3" y2="663.67" stroke="#000" stroke-width="1.35"/>
<line x1="448.5" y1="625.6" x2="448.5" y2="663.67" stroke="#000" stroke-width="1.35"/>
<line x1="471" y1="625.6" x2="471" y2="663.67" stroke="#000" stroke-width="1.35"/>
<line x1="494.6" y1="625.6" x2="494.6" y2="663.67" stroke="#000" stroke-width="1.35"/>
<line x1="516.2" y1="625.6" x2="516.2" y2="663.67" stroke="#000" stroke-width="1.35"/>
<text x="0" y="0" transform="translate(437.9,638.2) scale(1,1.1)" font-size="8.9" text-anchor="middle" fill="#111" stroke="#111" stroke-width="0.2">WT</text>
<text x="0" y="0" transform="translate(459.75,638.2) scale(1,1.1)" font-size="8.9" text-anchor="middle" fill="#111" stroke="#111" stroke-width="0.2">KO</text>
<text x="0" y="0" transform="translate(482.8,638.2) scale(1,1.1)" font-size="8.9" text-anchor="middle" fill="#111" stroke="#111" stroke-width="0.2">WT</text>
<text x="0" y="0" transform="translate(505.4,638.2) scale(1,1.1)" font-size="8.9" text-anchor="middle" fill="#111" stroke="#111" stroke-width="0.2">KO</text>
<text x="0" y="0" transform="translate(437.9,656.2) scale(1,1.1)" font-size="8.9" text-anchor="middle" fill="#111" stroke="#111" stroke-width="0.2">2.8</text>
<text x="0" y="0" transform="translate(459.75,656.2) scale(1,1.1)" font-size="8.9" text-anchor="middle" fill="#111" stroke="#111" stroke-width="0.2">2.8</text>
<text x="0" y="0" transform="translate(482.8,656.2) scale(1,1.1)" font-size="8.9" text-anchor="middle" fill="#111" stroke="#111" stroke-width="0.2">16.7</text>
<text x="0" y="0" transform="translate(505.4,656.2) scale(1,1.1)" font-size="8.9" text-anchor="middle" fill="#111" stroke="#111" stroke-width="0.2">16.7</text>
<text x="0" y="0" transform="translate(423.5,638.2) scale(1,1.07)" font-size="8.1" text-anchor="end" fill="#111" stroke="#111" stroke-width="0.2">Drp1</text>
<text x="0" y="0" transform="translate(423.7,656.2) scale(1,1.07)" font-size="8.1" text-anchor="end" fill="#111" stroke="#111" stroke-width="0.2">Glucose (mM)</text>
</svg></body></html>
